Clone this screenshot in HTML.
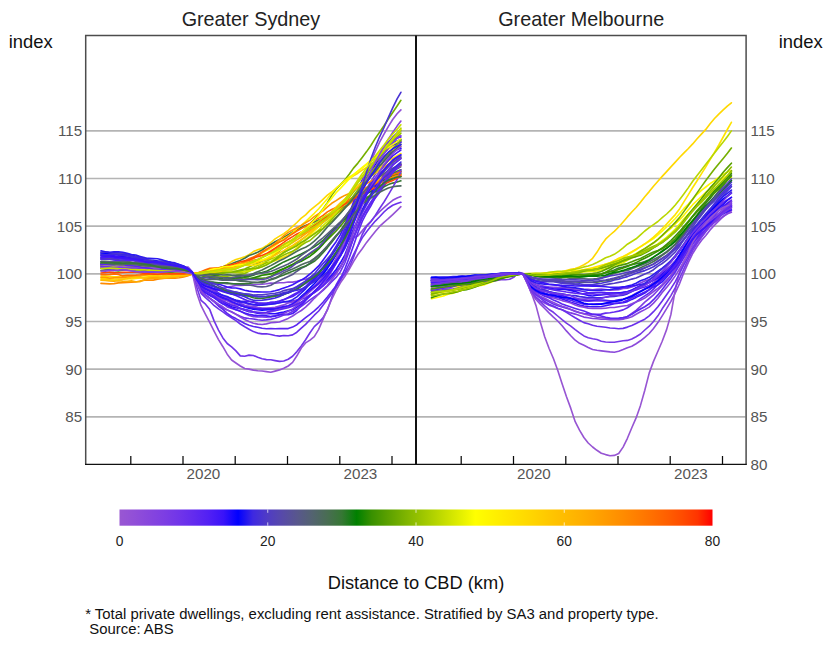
<!DOCTYPE html>
<html><head><meta charset="utf-8"><title>Rents by distance to CBD</title>
<style>
html,body{margin:0;padding:0;background:#fff;}
body{width:832px;height:645px;overflow:hidden;position:relative;font-family:"Liberation Sans",sans-serif;}
svg{position:absolute;left:0;top:0;}
text{font-family:"Liberation Sans",sans-serif;}
.t{font-size:19.8px;fill:#222;}
.u{font-size:18.4px;fill:#111;}
.k{font-size:15.2px;fill:#555;}
.c{font-size:13.8px;fill:#222;}
.f{font-size:14.89px;fill:#111;}
.lines path{fill:none;stroke-width:1.62;stroke-linejoin:round;stroke-linecap:round;}
</style></head><body>
<svg width="832" height="645" viewBox="0 0 832 645">
<defs>
<linearGradient id="cb" x1="0" y1="0" x2="1" y2="0">
<stop offset="0.0000" stop-color="#9957d2"/><stop offset="0.0250" stop-color="#914fd8"/><stop offset="0.0500" stop-color="#8746dd"/><stop offset="0.0750" stop-color="#7d3ee3"/><stop offset="0.1000" stop-color="#7135e9"/><stop offset="0.1250" stop-color="#632bee"/><stop offset="0.1500" stop-color="#5220f4"/><stop offset="0.1750" stop-color="#3a13f9"/><stop offset="0.2000" stop-color="#0000ff"/><stop offset="0.2250" stop-color="#3e28e1"/><stop offset="0.2500" stop-color="#503cc4"/><stop offset="0.2750" stop-color="#574aa8"/><stop offset="0.3000" stop-color="#58578c"/><stop offset="0.3250" stop-color="#536370"/><stop offset="0.3500" stop-color="#496d53"/><stop offset="0.3750" stop-color="#367734"/><stop offset="0.4000" stop-color="#008000"/><stop offset="0.4250" stop-color="#389000"/><stop offset="0.4500" stop-color="#589f00"/><stop offset="0.4750" stop-color="#75af00"/><stop offset="0.5000" stop-color="#91bf00"/><stop offset="0.5250" stop-color="#accf00"/><stop offset="0.5500" stop-color="#c8df00"/><stop offset="0.5750" stop-color="#e3ef00"/><stop offset="0.6000" stop-color="#ffff00"/><stop offset="0.6250" stop-color="#fff400"/><stop offset="0.6500" stop-color="#ffe900"/><stop offset="0.6750" stop-color="#ffde00"/><stop offset="0.7000" stop-color="#ffd300"/><stop offset="0.7250" stop-color="#ffc700"/><stop offset="0.7500" stop-color="#ffbc00"/><stop offset="0.7750" stop-color="#ffb100"/><stop offset="0.8000" stop-color="#ffa500"/><stop offset="0.8250" stop-color="#ff9800"/><stop offset="0.8500" stop-color="#ff8b00"/><stop offset="0.8750" stop-color="#ff7d00"/><stop offset="0.9000" stop-color="#ff6e00"/><stop offset="0.9250" stop-color="#ff5e00"/><stop offset="0.9500" stop-color="#ff4b00"/><stop offset="0.9750" stop-color="#ff3400"/><stop offset="1.0000" stop-color="#ff0000"/>
</linearGradient>
<clipPath id="cs"><rect x="86" y="36" width="329" height="428"/></clipPath>
<clipPath id="cm"><rect x="417" y="36" width="329" height="428"/></clipPath>
</defs>
<rect width="832" height="645" fill="#fff"/>
<g stroke="#b4b4b4" stroke-width="1.6"><line x1="86" x2="745.5" y1="416.83" y2="416.83"/><line x1="86" x2="745.5" y1="369.17" y2="369.17"/><line x1="86" x2="745.5" y1="321.50" y2="321.50"/><line x1="86" x2="745.5" y1="273.83" y2="273.83"/><line x1="86" x2="745.5" y1="226.17" y2="226.17"/><line x1="86" x2="745.5" y1="178.50" y2="178.50"/><line x1="86" x2="745.5" y1="130.83" y2="130.83"/></g>
<g class="lines" clip-path="url(#cs)">
<path d="M101.0,276.3 L105.3,276.0 L109.7,276.3 L114.0,276.7 L118.4,276.7 L122.7,277.0 L127.1,277.0 L131.4,276.7 L135.8,276.7 L140.2,276.1 L144.5,275.8 L148.9,275.9 L153.2,275.8 L157.6,276.2 L161.9,276.1 L166.3,275.2 L170.6,275.0 L175.0,274.9 L179.3,274.9 L183.7,275.0 L188.1,274.7 L192.4,274.0 L196.8,273.4 L201.1,272.9 L205.5,272.9 L209.8,272.3 L214.2,270.6 L218.5,268.8 L222.9,266.9 L227.2,264.4 L231.6,261.6 L235.9,259.6 L240.3,258.2 L244.7,256.9 L249.0,254.6 L253.4,251.6 L257.7,249.7 L262.1,248.4 L266.4,245.8 L270.8,242.5 L275.1,238.9 L279.5,236.1 L283.8,233.6 L288.2,230.3 L292.6,226.4 L296.9,222.5 L301.3,218.2 L305.6,214.9 L310.0,210.4 L314.3,206.8 L318.7,203.4 L323.0,199.4 L327.4,195.2 L331.7,192.0 L336.1,188.3 L340.4,184.5 L344.8,181.1 L349.2,178.7 L353.5,175.8 L357.9,173.2 L362.2,170.1 L366.6,167.5 L370.9,165.2 L375.3,162.6 L379.6,159.6 L384.0,156.4 L388.3,153.2 L392.7,150.9 L397.1,148.6 L400.9,146.1" stroke="#ffd800"/>
<path d="M101.0,265.6 L105.3,265.0 L109.7,264.8 L114.0,265.4 L118.4,266.1 L122.7,265.6 L127.1,265.7 L131.4,265.8 L135.8,266.2 L140.2,266.5 L144.5,266.8 L148.9,267.0 L153.2,268.1 L157.6,268.6 L161.9,268.2 L166.3,268.4 L170.6,268.5 L175.0,269.0 L179.3,269.5 L183.7,270.1 L188.1,271.9 L192.4,273.7 L196.8,273.5 L201.1,272.4 L205.5,270.8 L209.8,269.5 L214.2,269.0 L218.5,268.3 L222.9,266.8 L227.2,265.4 L231.6,263.8 L235.9,262.0 L240.3,260.4 L244.7,258.2 L249.0,255.5 L253.4,254.0 L257.7,252.2 L262.1,250.0 L266.4,246.9 L270.8,244.5 L275.1,241.7 L279.5,239.6 L283.8,237.2 L288.2,234.6 L292.6,232.0 L296.9,230.0 L301.3,227.4 L305.6,225.4 L310.0,223.7 L314.3,222.0 L318.7,219.9 L323.0,218.2 L327.4,216.6 L331.7,214.1 L336.1,211.6 L340.4,209.0 L344.8,206.7 L349.2,203.8 L353.5,199.6 L357.9,195.8 L362.2,192.1 L366.6,188.8 L370.9,186.1 L375.3,183.9 L379.6,181.7 L384.0,179.6 L388.3,177.4 L392.7,175.5 L397.1,173.2 L400.9,171.4" stroke="#417244"/>
<path d="M101.0,265.4 L105.3,265.6 L109.7,265.5 L114.0,265.7 L118.4,266.2 L122.7,266.7 L127.1,266.8 L131.4,266.4 L135.8,265.5 L140.2,265.9 L144.5,266.4 L148.9,266.4 L153.2,266.2 L157.6,266.9 L161.9,266.8 L166.3,266.3 L170.6,266.0 L175.0,266.3 L179.3,266.8 L183.7,267.1 L188.1,267.1 L192.4,271.8 L196.8,281.1 L201.1,286.0 L205.5,288.6 L209.8,289.9 L214.2,289.8 L218.5,289.6 L222.9,288.3 L227.2,287.2 L231.6,286.4 L235.9,285.5 L240.3,285.5 L244.7,285.2 L249.0,285.3 L253.4,284.5 L257.7,284.5 L262.1,284.3 L266.4,283.8 L270.8,283.1 L275.1,283.2 L279.5,282.7 L283.8,282.7 L288.2,282.0 L292.6,282.1 L296.9,281.3 L301.3,279.9 L305.6,279.2 L310.0,277.8 L314.3,275.0 L318.7,272.4 L323.0,268.1 L327.4,263.9 L331.7,259.9 L336.1,255.0 L340.4,249.8 L344.8,244.2 L349.2,239.2 L353.5,237.8 L357.9,235.9 L362.2,230.9 L366.6,225.6 L370.9,221.3 L375.3,216.1 L379.6,211.6 L384.0,207.6 L388.3,203.8 L392.7,200.3 L397.1,198.0 L400.9,196.5" stroke="#8c4bdb"/>
<path d="M101.0,267.2 L105.3,267.5 L109.7,267.8 L114.0,268.3 L118.4,268.3 L122.7,268.2 L127.1,268.1 L131.4,268.7 L135.8,268.7 L140.2,268.7 L144.5,268.9 L148.9,269.5 L153.2,269.8 L157.6,270.8 L161.9,271.2 L166.3,271.9 L170.6,271.5 L175.0,271.2 L179.3,271.1 L183.7,271.4 L188.1,272.4 L192.4,273.7 L196.8,274.2 L201.1,274.8 L205.5,275.2 L209.8,275.3 L214.2,275.4 L218.5,275.1 L222.9,273.5 L227.2,272.1 L231.6,272.1 L235.9,271.4 L240.3,270.1 L244.7,269.0 L249.0,267.1 L253.4,265.0 L257.7,263.4 L262.1,261.1 L266.4,259.5 L270.8,257.7 L275.1,254.5 L279.5,250.8 L283.8,247.0 L288.2,243.1 L292.6,239.5 L296.9,235.8 L301.3,232.5 L305.6,228.5 L310.0,223.9 L314.3,219.3 L318.7,214.3 L323.0,209.0 L327.4,202.6 L331.7,195.4 L336.1,189.3 L340.4,184.6 L344.8,180.1 L349.2,174.3 L353.5,168.1 L357.9,163.1 L362.2,157.5 L366.6,151.6 L370.9,145.5 L375.3,138.4 L379.6,132.2 L384.0,125.7 L388.3,119.0 L392.7,112.5 L397.1,106.0 L400.9,100.3" stroke="#75af00"/>
<path d="M101.0,267.9 L105.3,268.3 L109.7,268.7 L114.0,269.2 L118.4,268.7 L122.7,268.0 L127.1,268.1 L131.4,268.7 L135.8,268.8 L140.2,268.8 L144.5,269.1 L148.9,270.3 L153.2,271.3 L157.6,271.6 L161.9,271.9 L166.3,272.2 L170.6,272.2 L175.0,271.9 L179.3,271.9 L183.7,272.2 L188.1,272.9 L192.4,273.8 L196.8,273.7 L201.1,273.0 L205.5,271.9 L209.8,270.9 L214.2,270.0 L218.5,269.3 L222.9,269.0 L227.2,268.8 L231.6,267.4 L235.9,265.8 L240.3,264.4 L244.7,262.6 L249.0,260.2 L253.4,257.5 L257.7,254.8 L262.1,252.8 L266.4,250.5 L270.8,248.4 L275.1,245.6 L279.5,242.0 L283.8,238.8 L288.2,236.3 L292.6,232.6 L296.9,228.7 L301.3,225.1 L305.6,221.7 L310.0,217.4 L314.3,213.3 L318.7,208.8 L323.0,203.8 L327.4,198.8 L331.7,193.1 L336.1,188.2 L340.4,184.5 L344.8,180.6 L349.2,177.1 L353.5,174.4 L357.9,171.2 L362.2,168.1 L366.6,164.6 L370.9,161.0 L375.3,157.7 L379.6,154.9 L384.0,152.0 L388.3,149.3 L392.7,146.5 L397.1,143.7 L400.9,141.4" stroke="#fff400"/>
<path d="M101.0,267.8 L105.3,267.9 L109.7,267.7 L114.0,268.4 L118.4,267.8 L122.7,266.9 L127.1,267.8 L131.4,268.5 L135.8,268.7 L140.2,268.9 L144.5,269.0 L148.9,269.6 L153.2,270.3 L157.6,270.1 L161.9,270.4 L166.3,270.7 L170.6,271.0 L175.0,270.9 L179.3,271.5 L183.7,271.8 L188.1,272.3 L192.4,273.4 L196.8,278.6 L201.1,283.9 L205.5,286.2 L209.8,287.3 L214.2,289.4 L218.5,293.0 L222.9,295.8 L227.2,297.9 L231.6,299.0 L235.9,300.1 L240.3,301.0 L244.7,301.2 L249.0,301.4 L253.4,301.7 L257.7,302.7 L262.1,303.0 L266.4,303.3 L270.8,302.6 L275.1,302.0 L279.5,301.1 L283.8,299.6 L288.2,297.4 L292.6,295.0 L296.9,292.7 L301.3,290.1 L305.6,287.4 L310.0,284.1 L314.3,280.8 L318.7,277.0 L323.0,272.2 L327.4,266.5 L331.7,260.7 L336.1,254.3 L340.4,246.4 L344.8,235.6 L349.2,223.2 L353.5,209.6 L357.9,195.5 L362.2,183.5 L366.6,174.3 L370.9,166.5 L375.3,160.0 L379.6,153.3 L384.0,147.2 L388.3,142.2 L392.7,137.2 L397.1,133.0 L400.9,130.8" stroke="#5220f4"/>
<path d="M101.0,268.2 L105.3,268.0 L109.7,267.1 L114.0,267.2 L118.4,267.5 L122.7,267.5 L127.1,268.1 L131.4,268.2 L135.8,268.0 L140.2,267.9 L144.5,268.8 L148.9,269.7 L153.2,270.1 L157.6,270.7 L161.9,270.6 L166.3,270.8 L170.6,271.1 L175.0,271.0 L179.3,271.2 L183.7,271.4 L188.1,272.6 L192.4,273.8 L196.8,273.6 L201.1,273.0 L205.5,272.4 L209.8,272.0 L214.2,272.0 L218.5,272.2 L222.9,271.8 L227.2,271.9 L231.6,272.5 L235.9,272.6 L240.3,272.8 L244.7,271.8 L249.0,269.8 L253.4,267.5 L257.7,265.4 L262.1,263.3 L266.4,261.3 L270.8,259.1 L275.1,257.4 L279.5,255.3 L283.8,252.7 L288.2,249.9 L292.6,246.7 L296.9,243.5 L301.3,240.0 L305.6,236.6 L310.0,233.1 L314.3,230.0 L318.7,226.4 L323.0,222.7 L327.4,219.2 L331.7,215.1 L336.1,210.9 L340.4,206.2 L344.8,200.6 L349.2,195.4 L353.5,189.0 L357.9,182.5 L362.2,177.0 L366.6,171.1 L370.9,165.1 L375.3,159.5 L379.6,153.8 L384.0,148.3 L388.3,143.5 L392.7,138.3 L397.1,133.0 L400.9,128.2" stroke="#accf00"/>
<path d="M101.0,270.7 L105.3,269.8 L109.7,270.1 L114.0,270.5 L118.4,270.9 L122.7,270.2 L127.1,269.4 L131.4,269.3 L135.8,270.8 L140.2,271.9 L144.5,272.5 L148.9,271.7 L153.2,271.9 L157.6,271.9 L161.9,271.7 L166.3,272.0 L170.6,272.3 L175.0,272.5 L179.3,272.5 L183.7,272.7 L188.1,273.1 L192.4,273.7 L196.8,274.2 L201.1,274.5 L205.5,274.8 L209.8,275.0 L214.2,275.4 L218.5,276.1 L222.9,277.1 L227.2,278.2 L231.6,279.0 L235.9,278.9 L240.3,278.5 L244.7,277.8 L249.0,278.3 L253.4,278.6 L257.7,278.4 L262.1,278.2 L266.4,277.7 L270.8,276.2 L275.1,274.0 L279.5,271.1 L283.8,269.1 L288.2,266.8 L292.6,264.5 L296.9,261.7 L301.3,259.3 L305.6,256.5 L310.0,253.9 L314.3,251.4 L318.7,248.1 L323.0,243.6 L327.4,239.7 L331.7,235.4 L336.1,231.0 L340.4,226.1 L344.8,220.8 L349.2,214.9 L353.5,208.4 L357.9,201.8 L362.2,196.6 L366.6,192.2 L370.9,187.8 L375.3,184.3 L379.6,181.3 L384.0,178.1 L388.3,175.7 L392.7,173.5 L397.1,171.2 L400.9,169.8" stroke="#499700"/>
<path d="M101.0,263.4 L105.3,263.2 L109.7,263.4 L114.0,263.7 L118.4,263.8 L122.7,263.8 L127.1,263.9 L131.4,264.3 L135.8,264.7 L140.2,265.3 L144.5,266.0 L148.9,266.3 L153.2,266.7 L157.6,267.4 L161.9,267.8 L166.3,267.4 L170.6,267.8 L175.0,268.8 L179.3,269.7 L183.7,270.4 L188.1,271.9 L192.4,273.6 L196.8,274.3 L201.1,274.7 L205.5,275.1 L209.8,275.2 L214.2,276.0 L218.5,277.1 L222.9,277.2 L227.2,277.5 L231.6,278.4 L235.9,277.9 L240.3,277.3 L244.7,276.9 L249.0,276.5 L253.4,275.2 L257.7,273.4 L262.1,272.5 L266.4,271.4 L270.8,269.0 L275.1,266.7 L279.5,264.3 L283.8,261.9 L288.2,260.0 L292.6,257.9 L296.9,256.0 L301.3,253.9 L305.6,251.7 L310.0,249.4 L314.3,246.8 L318.7,243.9 L323.0,240.5 L327.4,236.0 L331.7,231.3 L336.1,226.5 L340.4,222.3 L344.8,218.8 L349.2,213.8 L353.5,207.8 L357.9,202.1 L362.2,197.2 L366.6,193.8 L370.9,191.5 L375.3,188.5 L379.6,185.8 L384.0,183.8 L388.3,181.2 L392.7,178.7 L397.1,177.4 L400.9,176.5" stroke="#267b21"/>
<path d="M101.0,266.3 L105.3,266.0 L109.7,266.0 L114.0,267.0 L118.4,266.9 L122.7,266.7 L127.1,266.9 L131.4,266.6 L135.8,267.2 L140.2,267.9 L144.5,267.9 L148.9,267.3 L153.2,267.4 L157.6,267.7 L161.9,268.7 L166.3,269.2 L170.6,269.6 L175.0,269.7 L179.3,270.2 L183.7,270.7 L188.1,271.8 L192.4,273.3 L196.8,278.7 L201.1,283.4 L205.5,285.3 L209.8,287.5 L214.2,290.9 L218.5,293.5 L222.9,295.9 L227.2,297.4 L231.6,298.6 L235.9,300.7 L240.3,302.4 L244.7,303.0 L249.0,304.5 L253.4,304.7 L257.7,304.5 L262.1,304.8 L266.4,304.4 L270.8,303.9 L275.1,303.5 L279.5,302.8 L283.8,302.0 L288.2,301.6 L292.6,301.1 L296.9,300.0 L301.3,299.2 L305.6,297.7 L310.0,294.8 L314.3,292.5 L318.7,289.2 L323.0,285.2 L327.4,281.2 L331.7,277.1 L336.1,272.3 L340.4,266.8 L344.8,259.3 L349.2,249.5 L353.5,238.6 L357.9,228.0 L362.2,218.2 L366.6,210.2 L370.9,203.9 L375.3,198.1 L379.6,192.4 L384.0,186.2 L388.3,180.8 L392.7,176.4 L397.1,172.6 L400.9,170.0" stroke="#632bee"/>
<path d="M101.0,265.2 L105.3,265.3 L109.7,265.3 L114.0,265.5 L118.4,265.6 L122.7,265.4 L127.1,265.7 L131.4,266.0 L135.8,266.3 L140.2,266.4 L144.5,266.3 L148.9,266.8 L153.2,267.8 L157.6,268.4 L161.9,269.1 L166.3,269.7 L170.6,269.7 L175.0,270.0 L179.3,270.5 L183.7,271.1 L188.1,272.2 L192.4,273.5 L196.8,274.6 L201.1,275.7 L205.5,276.7 L209.8,277.1 L214.2,277.5 L218.5,278.0 L222.9,278.9 L227.2,279.5 L231.6,280.2 L235.9,280.3 L240.3,280.5 L244.7,279.6 L249.0,279.0 L253.4,277.8 L257.7,276.6 L262.1,275.3 L266.4,274.6 L270.8,273.9 L275.1,272.2 L279.5,270.2 L283.8,268.5 L288.2,266.5 L292.6,264.6 L296.9,263.1 L301.3,261.3 L305.6,258.8 L310.0,256.2 L314.3,252.8 L318.7,249.0 L323.0,244.2 L327.4,238.6 L331.7,233.3 L336.1,228.2 L340.4,222.8 L344.8,217.3 L349.2,211.7 L353.5,206.8 L357.9,201.4 L362.2,196.0 L366.6,192.2 L370.9,188.7 L375.3,185.2 L379.6,182.6 L384.0,179.8 L388.3,177.4 L392.7,175.7 L397.1,174.8 L400.9,173.8" stroke="#248800"/>
<path d="M101.0,265.8 L105.3,265.6 L109.7,265.4 L114.0,265.8 L118.4,266.2 L122.7,266.5 L127.1,266.7 L131.4,267.5 L135.8,268.0 L140.2,268.8 L144.5,269.6 L148.9,270.7 L153.2,270.4 L157.6,270.2 L161.9,269.8 L166.3,269.9 L170.6,270.0 L175.0,270.2 L179.3,270.2 L183.7,270.8 L188.1,271.6 L192.4,273.3 L196.8,279.0 L201.1,284.2 L205.5,286.4 L209.8,288.7 L214.2,291.3 L218.5,294.0 L222.9,296.9 L227.2,298.7 L231.6,300.3 L235.9,301.6 L240.3,303.6 L244.7,305.3 L249.0,306.5 L253.4,307.4 L257.7,308.4 L262.1,309.3 L266.4,309.6 L270.8,309.8 L275.1,309.0 L279.5,308.0 L283.8,307.4 L288.2,306.8 L292.6,305.4 L296.9,302.8 L301.3,298.8 L305.6,295.2 L310.0,291.2 L314.3,287.2 L318.7,283.8 L323.0,280.4 L327.4,275.9 L331.7,269.8 L336.1,262.2 L340.4,254.4 L344.8,245.5 L349.2,233.8 L353.5,220.3 L357.9,207.7 L362.2,197.0 L366.6,188.7 L370.9,181.6 L375.3,174.3 L379.6,167.8 L384.0,161.0 L388.3,154.4 L392.7,149.0 L397.1,144.8 L400.9,142.4" stroke="#7135e9"/>
<path d="M101.0,283.4 L105.3,283.6 L109.7,283.9 L114.0,283.6 L118.4,282.9 L122.7,282.8 L127.1,282.4 L131.4,282.3 L135.8,282.0 L140.2,281.0 L144.5,280.1 L148.9,280.0 L153.2,280.1 L157.6,279.3 L161.9,278.4 L166.3,278.2 L170.6,277.9 L175.0,278.2 L179.3,277.8 L183.7,276.9 L188.1,275.7 L192.4,274.1 L196.8,273.1 L201.1,272.3 L205.5,271.8 L209.8,270.8 L214.2,270.5 L218.5,269.7 L222.9,268.9 L227.2,267.7 L231.6,267.2 L235.9,265.9 L240.3,265.4 L244.7,263.9 L249.0,261.9 L253.4,260.2 L257.7,259.6 L262.1,257.4 L266.4,254.7 L270.8,251.9 L275.1,249.1 L279.5,246.9 L283.8,244.8 L288.2,242.0 L292.6,239.4 L296.9,237.2 L301.3,235.0 L305.6,232.7 L310.0,229.5 L314.3,226.6 L318.7,224.4 L323.0,221.7 L327.4,218.4 L331.7,216.2 L336.1,214.0 L340.4,211.0 L344.8,207.6 L349.2,204.4 L353.5,200.5 L357.9,196.8 L362.2,193.7 L366.6,190.4 L370.9,187.5 L375.3,185.3 L379.6,183.4 L384.0,181.5 L388.3,179.0 L392.7,176.9 L397.1,175.6 L400.9,174.3" stroke="#ff8b00"/>
<path d="M101.0,278.2 L105.3,278.4 L109.7,278.6 L114.0,278.9 L118.4,279.0 L122.7,279.2 L127.1,278.5 L131.4,279.0 L135.8,278.5 L140.2,277.9 L144.5,277.8 L148.9,277.8 L153.2,277.2 L157.6,277.3 L161.9,277.5 L166.3,277.1 L170.6,276.5 L175.0,276.5 L179.3,275.8 L183.7,275.3 L188.1,274.8 L192.4,274.0 L196.8,273.5 L201.1,273.5 L205.5,273.1 L209.8,272.9 L214.2,272.0 L218.5,270.8 L222.9,270.0 L227.2,268.6 L231.6,266.9 L235.9,265.4 L240.3,265.3 L244.7,265.3 L249.0,265.4 L253.4,265.2 L257.7,264.2 L262.1,263.3 L266.4,262.9 L270.8,261.9 L275.1,260.6 L279.5,258.9 L283.8,257.1 L288.2,255.2 L292.6,251.7 L296.9,247.9 L301.3,244.2 L305.6,239.9 L310.0,235.1 L314.3,230.8 L318.7,226.1 L323.0,221.8 L327.4,218.4 L331.7,214.2 L336.1,209.4 L340.4,204.5 L344.8,199.3 L349.2,194.6 L353.5,190.4 L357.9,186.6 L362.2,182.7 L366.6,178.6 L370.9,174.7 L375.3,171.3 L379.6,168.0 L384.0,164.5 L388.3,161.2 L392.7,158.2 L397.1,155.8 L400.9,153.5" stroke="#ffe300"/>
<path d="M101.0,257.1 L105.3,256.8 L109.7,257.1 L114.0,256.9 L118.4,257.1 L122.7,257.5 L127.1,257.5 L131.4,257.9 L135.8,258.8 L140.2,259.5 L144.5,261.0 L148.9,262.0 L153.2,262.5 L157.6,262.3 L161.9,263.3 L166.3,264.7 L170.6,265.2 L175.0,265.8 L179.3,267.3 L183.7,268.5 L188.1,270.2 L192.4,273.0 L196.8,277.6 L201.1,281.1 L205.5,282.6 L209.8,283.3 L214.2,284.0 L218.5,284.1 L222.9,285.5 L227.2,287.1 L231.6,287.9 L235.9,288.0 L240.3,288.9 L244.7,290.2 L249.0,291.1 L253.4,291.8 L257.7,291.9 L262.1,292.0 L266.4,292.0 L270.8,291.8 L275.1,290.8 L279.5,289.6 L283.8,287.9 L288.2,286.5 L292.6,284.8 L296.9,282.2 L301.3,280.1 L305.6,277.5 L310.0,274.0 L314.3,270.2 L318.7,265.9 L323.0,260.2 L327.4,254.1 L331.7,247.7 L336.1,241.7 L340.4,234.7 L344.8,225.2 L349.2,213.8 L353.5,202.3 L357.9,191.5 L362.2,180.9 L366.6,172.5 L370.9,167.0 L375.3,161.8 L379.6,156.8 L384.0,151.5 L388.3,147.2 L392.7,145.0 L397.1,143.4 L400.9,141.8" stroke="#3a13f9"/>
<path d="M101.0,253.0 L105.3,253.0 L109.7,252.8 L114.0,252.7 L118.4,253.1 L122.7,253.9 L127.1,254.3 L131.4,255.1 L135.8,257.0 L140.2,258.8 L144.5,259.9 L148.9,260.6 L153.2,261.1 L157.6,261.5 L161.9,262.5 L166.3,262.8 L170.6,263.3 L175.0,264.5 L179.3,265.4 L183.7,266.9 L188.1,268.9 L192.4,272.7 L196.8,281.5 L201.1,289.0 L205.5,292.5 L209.8,295.1 L214.2,297.5 L218.5,300.1 L222.9,302.4 L227.2,304.6 L231.6,306.7 L235.9,307.6 L240.3,308.7 L244.7,310.2 L249.0,311.8 L253.4,312.3 L257.7,313.2 L262.1,313.8 L266.4,313.7 L270.8,313.5 L275.1,313.7 L279.5,312.9 L283.8,312.1 L288.2,310.9 L292.6,309.7 L296.9,307.1 L301.3,303.5 L305.6,299.3 L310.0,295.6 L314.3,291.4 L318.7,287.1 L323.0,282.5 L327.4,279.3 L331.7,275.1 L336.1,269.5 L340.4,262.8 L344.8,255.1 L349.2,243.9 L353.5,231.7 L357.9,219.9 L362.2,209.8 L366.6,201.1 L370.9,193.8 L375.3,186.3 L379.6,180.4 L384.0,175.4 L388.3,170.1 L392.7,164.9 L397.1,161.5 L400.9,158.4" stroke="#280afc"/>
<path d="M101.0,253.0 L105.3,253.3 L109.7,253.8 L114.0,253.9 L118.4,254.3 L122.7,254.7 L127.1,255.0 L131.4,255.6 L135.8,256.4 L140.2,257.3 L144.5,258.9 L148.9,260.2 L153.2,260.4 L157.6,261.0 L161.9,261.3 L166.3,261.3 L170.6,262.5 L175.0,263.8 L179.3,265.1 L183.7,266.5 L188.1,268.9 L192.4,272.8 L196.8,280.0 L201.1,285.8 L205.5,288.5 L209.8,290.9 L214.2,293.4 L218.5,296.1 L222.9,298.1 L227.2,300.0 L231.6,302.1 L235.9,303.8 L240.3,305.1 L244.7,306.9 L249.0,308.2 L253.4,309.2 L257.7,309.8 L262.1,310.2 L266.4,309.8 L270.8,309.2 L275.1,308.5 L279.5,307.8 L283.8,307.0 L288.2,306.3 L292.6,304.3 L296.9,300.9 L301.3,296.4 L305.6,292.5 L310.0,288.1 L314.3,283.8 L318.7,278.9 L323.0,274.1 L327.4,268.4 L331.7,262.1 L336.1,254.7 L340.4,247.3 L344.8,237.5 L349.2,225.1 L353.5,210.7 L357.9,197.3 L362.2,186.2 L366.6,178.2 L370.9,171.3 L375.3,164.6 L379.6,157.6 L384.0,151.3 L388.3,146.4 L392.7,143.1 L397.1,140.9 L400.9,139.6" stroke="#0000ff"/>
<path d="M101.0,259.0 L105.3,258.8 L109.7,259.2 L114.0,259.7 L118.4,259.8 L122.7,261.1 L127.1,261.5 L131.4,262.0 L135.8,262.7 L140.2,262.4 L144.5,262.2 L148.9,264.0 L153.2,264.8 L157.6,265.4 L161.9,265.8 L166.3,265.6 L170.6,265.8 L175.0,267.0 L179.3,267.9 L183.7,269.0 L188.1,270.7 L192.4,273.2 L196.8,277.0 L201.1,279.7 L205.5,280.9 L209.8,282.0 L214.2,282.6 L218.5,282.8 L222.9,283.1 L227.2,283.7 L231.6,283.6 L235.9,284.1 L240.3,284.6 L244.7,284.9 L249.0,285.0 L253.4,285.7 L257.7,286.8 L262.1,286.9 L266.4,286.5 L270.8,285.2 L275.1,282.8 L279.5,280.4 L283.8,278.6 L288.2,276.6 L292.6,274.5 L296.9,271.2 L301.3,268.3 L305.6,266.3 L310.0,263.1 L314.3,259.2 L318.7,255.5 L323.0,250.9 L327.4,246.0 L331.7,240.7 L336.1,235.6 L340.4,230.7 L344.8,224.0 L349.2,217.6 L353.5,211.2 L357.9,204.2 L362.2,198.1 L366.6,193.0 L370.9,188.4 L375.3,184.1 L379.6,179.8 L384.0,176.7 L388.3,174.2 L392.7,171.4 L397.1,168.9 L400.9,166.8" stroke="#58578c"/>
<path d="M101.0,267.9 L105.3,267.6 L109.7,266.8 L114.0,267.1 L118.4,267.4 L122.7,267.6 L127.1,268.1 L131.4,269.1 L135.8,269.8 L140.2,270.2 L144.5,270.1 L148.9,270.2 L153.2,270.3 L157.6,270.5 L161.9,270.4 L166.3,270.6 L170.6,270.7 L175.0,270.8 L179.3,271.3 L183.7,272.0 L188.1,272.9 L192.4,273.6 L196.8,274.4 L201.1,275.2 L205.5,275.6 L209.8,276.1 L214.2,276.7 L218.5,276.9 L222.9,276.3 L227.2,276.3 L231.6,275.8 L235.9,275.4 L240.3,274.4 L244.7,273.5 L249.0,271.2 L253.4,269.3 L257.7,267.4 L262.1,264.9 L266.4,262.8 L270.8,262.1 L275.1,260.0 L279.5,257.2 L283.8,255.1 L288.2,253.0 L292.6,251.3 L296.9,249.1 L301.3,245.4 L305.6,242.5 L310.0,240.5 L314.3,236.7 L318.7,232.8 L323.0,228.7 L327.4,223.8 L331.7,218.9 L336.1,214.5 L340.4,209.7 L344.8,203.8 L349.2,197.5 L353.5,191.9 L357.9,186.4 L362.2,181.0 L366.6,174.7 L370.9,167.9 L375.3,162.4 L379.6,157.1 L384.0,151.7 L388.3,146.5 L392.7,141.8 L397.1,137.2 L400.9,133.1" stroke="#91bf00"/>
<path d="M101.0,264.4 L105.3,264.5 L109.7,264.7 L114.0,264.7 L118.4,264.8 L122.7,264.7 L127.1,264.8 L131.4,265.4 L135.8,265.9 L140.2,265.7 L144.5,266.1 L148.9,266.6 L153.2,267.7 L157.6,268.4 L161.9,269.0 L166.3,269.1 L170.6,268.9 L175.0,268.9 L179.3,270.0 L183.7,270.8 L188.1,271.7 L192.4,273.3 L196.8,276.5 L201.1,279.3 L205.5,281.0 L209.8,281.7 L214.2,282.2 L218.5,282.9 L222.9,282.8 L227.2,282.8 L231.6,283.8 L235.9,283.7 L240.3,283.7 L244.7,283.8 L249.0,283.4 L253.4,282.6 L257.7,282.5 L262.1,281.6 L266.4,281.0 L270.8,279.8 L275.1,278.5 L279.5,276.6 L283.8,275.0 L288.2,273.1 L292.6,271.3 L296.9,269.4 L301.3,267.5 L305.6,266.0 L310.0,263.8 L314.3,261.3 L318.7,257.4 L323.0,252.6 L327.4,247.6 L331.7,242.2 L336.1,236.5 L340.4,231.0 L344.8,225.1 L349.2,219.4 L353.5,214.1 L357.9,207.7 L362.2,201.8 L366.6,197.8 L370.9,195.1 L375.3,191.8 L379.6,189.3 L384.0,186.9 L388.3,184.6 L392.7,183.1 L397.1,182.0 L400.9,180.8" stroke="#367734"/>
<path d="M101.0,259.5 L105.3,259.3 L109.7,259.1 L114.0,259.9 L118.4,260.8 L122.7,260.4 L127.1,260.2 L131.4,260.2 L135.8,261.2 L140.2,262.0 L144.5,263.1 L148.9,263.5 L153.2,264.2 L157.6,265.6 L161.9,266.1 L166.3,266.3 L170.6,267.1 L175.0,267.6 L179.3,268.2 L183.7,268.8 L188.1,270.3 L192.4,273.0 L196.8,278.9 L201.1,283.7 L205.5,285.7 L209.8,287.3 L214.2,289.0 L218.5,290.3 L222.9,291.7 L227.2,292.9 L231.6,294.1 L235.9,295.6 L240.3,297.5 L244.7,299.6 L249.0,301.2 L253.4,302.5 L257.7,303.4 L262.1,303.9 L266.4,303.2 L270.8,302.4 L275.1,302.0 L279.5,301.2 L283.8,299.7 L288.2,298.1 L292.6,296.5 L296.9,293.8 L301.3,290.8 L305.6,286.7 L310.0,281.8 L314.3,278.0 L318.7,273.6 L323.0,267.6 L327.4,260.9 L331.7,253.6 L336.1,246.3 L340.4,239.0 L344.8,228.4 L349.2,216.6 L353.5,204.5 L357.9,191.8 L362.2,180.1 L366.6,172.3 L370.9,165.8 L375.3,160.3 L379.6,154.8 L384.0,149.1 L388.3,143.6 L392.7,139.9 L397.1,137.9 L400.9,137.0" stroke="#5220f4"/>
<path d="M101.0,277.5 L105.3,277.5 L109.7,278.1 L114.0,277.7 L118.4,277.6 L122.7,277.6 L127.1,277.0 L131.4,276.9 L135.8,277.1 L140.2,277.3 L144.5,278.0 L148.9,277.7 L153.2,277.2 L157.6,276.9 L161.9,276.5 L166.3,276.5 L170.6,276.2 L175.0,275.5 L179.3,275.5 L183.7,275.3 L188.1,274.5 L192.4,273.9 L196.8,273.3 L201.1,272.7 L205.5,271.6 L209.8,271.0 L214.2,270.7 L218.5,269.9 L222.9,269.0 L227.2,267.5 L231.6,266.4 L235.9,265.6 L240.3,264.5 L244.7,262.1 L249.0,260.4 L253.4,258.5 L257.7,255.7 L262.1,252.5 L266.4,249.8 L270.8,246.7 L275.1,243.6 L279.5,239.6 L283.8,235.7 L288.2,232.4 L292.6,230.0 L296.9,227.8 L301.3,225.5 L305.6,222.8 L310.0,220.1 L314.3,216.6 L318.7,213.8 L323.0,210.8 L327.4,206.9 L331.7,203.3 L336.1,200.6 L340.4,197.8 L344.8,195.4 L349.2,193.6 L353.5,190.7 L357.9,187.4 L362.2,185.4 L366.6,183.6 L370.9,181.1 L375.3,178.7 L379.6,176.5 L384.0,174.3 L388.3,172.1 L392.7,169.7 L397.1,167.0 L400.9,164.6" stroke="#ff9800"/>
<path d="M101.0,274.8 L105.3,274.7 L109.7,274.5 L114.0,273.9 L118.4,274.5 L122.7,275.9 L127.1,275.4 L131.4,275.2 L135.8,275.1 L140.2,274.9 L144.5,274.6 L148.9,274.2 L153.2,273.8 L157.6,274.4 L161.9,274.2 L166.3,273.9 L170.6,273.8 L175.0,273.9 L179.3,274.2 L183.7,274.3 L188.1,274.1 L192.4,273.9 L196.8,273.3 L201.1,271.7 L205.5,269.7 L209.8,268.4 L214.2,268.1 L218.5,267.8 L222.9,266.9 L227.2,266.4 L231.6,266.6 L235.9,265.4 L240.3,263.7 L244.7,261.2 L249.0,258.7 L253.4,257.0 L257.7,255.0 L262.1,251.9 L266.4,249.3 L270.8,246.9 L275.1,244.2 L279.5,242.1 L283.8,240.0 L288.2,236.6 L292.6,233.7 L296.9,231.0 L301.3,228.6 L305.6,226.3 L310.0,223.5 L314.3,220.4 L318.7,218.1 L323.0,215.5 L327.4,211.9 L331.7,209.5 L336.1,207.5 L340.4,205.3 L344.8,202.2 L349.2,199.6 L353.5,196.8 L357.9,193.6 L362.2,190.3 L366.6,187.5 L370.9,185.6 L375.3,183.8 L379.6,181.4 L384.0,178.5 L388.3,176.3 L392.7,174.7 L397.1,173.3 L400.9,171.8" stroke="#ff6e00"/>
<path d="M101.0,264.5 L105.3,264.8 L109.7,264.9 L114.0,264.7 L118.4,265.3 L122.7,265.7 L127.1,266.1 L131.4,266.0 L135.8,266.0 L140.2,266.7 L144.5,267.1 L148.9,267.3 L153.2,267.4 L157.6,268.0 L161.9,268.4 L166.3,268.5 L170.6,268.8 L175.0,269.4 L179.3,269.7 L183.7,270.3 L188.1,271.4 L192.4,273.2 L196.8,280.5 L201.1,287.6 L205.5,290.4 L209.8,293.5 L214.2,297.0 L218.5,300.0 L222.9,303.4 L227.2,307.0 L231.6,308.5 L235.9,309.6 L240.3,311.1 L244.7,313.6 L249.0,315.5 L253.4,316.6 L257.7,316.9 L262.1,317.0 L266.4,317.3 L270.8,316.8 L275.1,315.5 L279.5,314.6 L283.8,313.2 L288.2,311.3 L292.6,308.9 L296.9,305.7 L301.3,302.8 L305.6,299.6 L310.0,295.8 L314.3,291.6 L318.7,287.5 L323.0,283.2 L327.4,277.9 L331.7,271.0 L336.1,263.4 L340.4,254.8 L344.8,244.2 L349.2,231.9 L353.5,217.6 L357.9,203.5 L362.2,191.5 L366.6,182.1 L370.9,174.6 L375.3,167.3 L379.6,159.8 L384.0,154.1 L388.3,148.6 L392.7,142.7 L397.1,138.3 L400.9,135.8" stroke="#7d3ee3"/>
<path d="M101.0,265.3 L105.3,265.5 L109.7,265.0 L114.0,265.0 L118.4,265.3 L122.7,265.4 L127.1,265.8 L131.4,266.0 L135.8,266.2 L140.2,266.8 L144.5,267.3 L148.9,268.1 L153.2,268.5 L157.6,268.8 L161.9,269.2 L166.3,269.4 L170.6,269.6 L175.0,269.9 L179.3,270.7 L183.7,271.6 L188.1,272.0 L192.4,273.3 L196.8,280.4 L201.1,287.5 L205.5,290.9 L209.8,293.3 L214.2,295.2 L218.5,298.1 L222.9,300.8 L227.2,302.9 L231.6,304.6 L235.9,306.4 L240.3,308.4 L244.7,309.7 L249.0,311.0 L253.4,311.9 L257.7,312.3 L262.1,312.9 L266.4,313.2 L270.8,311.8 L275.1,310.4 L279.5,308.9 L283.8,307.6 L288.2,306.4 L292.6,304.8 L296.9,302.4 L301.3,299.0 L305.6,295.4 L310.0,291.6 L314.3,288.0 L318.7,284.0 L323.0,278.8 L327.4,272.9 L331.7,266.4 L336.1,258.2 L340.4,249.7 L344.8,239.4 L349.2,226.0 L353.5,210.9 L357.9,196.0 L362.2,182.6 L366.6,171.4 L370.9,161.4 L375.3,151.5 L379.6,142.1 L384.0,134.2 L388.3,126.6 L392.7,119.5 L397.1,113.8 L400.9,109.9" stroke="#914fd8"/>
<path d="M101.0,264.8 L105.3,264.8 L109.7,264.7 L114.0,264.7 L118.4,265.2 L122.7,265.5 L127.1,266.2 L131.4,266.1 L135.8,266.2 L140.2,267.1 L144.5,267.9 L148.9,268.4 L153.2,269.3 L157.6,269.7 L161.9,270.1 L166.3,270.2 L170.6,270.1 L175.0,270.3 L179.3,270.3 L183.7,270.6 L188.1,271.7 L192.4,273.3 L196.8,283.1 L201.1,293.3 L205.5,297.6 L209.8,301.3 L214.2,305.7 L218.5,308.9 L222.9,311.9 L227.2,315.0 L231.6,317.8 L235.9,320.7 L240.3,324.0 L244.7,326.8 L249.0,329.2 L253.4,331.6 L257.7,333.1 L262.1,333.9 L266.4,333.7 L270.8,334.5 L275.1,335.5 L279.5,336.1 L283.8,335.5 L288.2,335.7 L292.6,334.9 L296.9,332.2 L301.3,328.2 L305.6,324.4 L310.0,319.7 L314.3,315.2 L318.7,311.0 L323.0,305.2 L327.4,299.4 L331.7,293.8 L336.1,287.2 L340.4,280.6 L344.8,272.9 L349.2,263.5 L353.5,254.7 L357.9,245.9 L362.2,237.9 L366.6,231.7 L370.9,226.3 L375.3,221.1 L379.6,216.8 L384.0,212.0 L388.3,208.2 L392.7,205.3 L397.1,203.5 L400.9,202.3" stroke="#6a30eb"/>
<path d="M101.0,266.4 L105.3,266.3 L109.7,266.4 L114.0,266.8 L118.4,267.0 L122.7,266.9 L127.1,266.9 L131.4,267.4 L135.8,268.1 L140.2,269.1 L144.5,269.2 L148.9,269.3 L153.2,269.0 L157.6,268.8 L161.9,269.4 L166.3,270.1 L170.6,270.0 L175.0,270.8 L179.3,271.0 L183.7,271.2 L188.1,271.9 L192.4,273.3 L196.8,287.3 L201.1,300.4 L205.5,304.2 L209.8,309.6 L214.2,321.1 L218.5,330.1 L222.9,337.9 L227.2,343.5 L231.6,346.9 L235.9,350.9 L240.3,355.9 L244.7,356.3 L249.0,355.1 L253.4,355.5 L257.7,357.2 L262.1,358.7 L266.4,359.6 L270.8,359.8 L275.1,360.6 L279.5,361.4 L283.8,361.0 L288.2,359.2 L292.6,356.3 L296.9,351.6 L301.3,346.0 L305.6,339.8 L310.0,332.7 L314.3,326.6 L318.7,322.6 L323.0,317.9 L327.4,309.9 L331.7,297.7 L336.1,284.9 L340.4,277.4 L344.8,274.5 L349.2,267.8 L353.5,257.4 L357.9,245.7 L362.2,234.5 L366.6,226.4 L370.9,221.7 L375.3,215.4 L379.6,208.5 L384.0,202.0 L388.3,194.9 L392.7,187.3 L397.1,179.5 L400.9,172.0" stroke="#7135e9"/>
<path d="M101.0,280.3 L105.3,280.4 L109.7,280.9 L114.0,281.1 L118.4,280.8 L122.7,281.1 L127.1,281.2 L131.4,280.9 L135.8,281.7 L140.2,281.6 L144.5,279.8 L148.9,278.4 L153.2,278.1 L157.6,278.1 L161.9,278.4 L166.3,278.0 L170.6,277.4 L175.0,277.1 L179.3,276.4 L183.7,276.1 L188.1,275.2 L192.4,274.1 L196.8,273.0 L201.1,272.3 L205.5,271.7 L209.8,271.3 L214.2,270.1 L218.5,269.1 L222.9,268.3 L227.2,267.8 L231.6,266.4 L235.9,264.9 L240.3,263.6 L244.7,263.4 L249.0,263.1 L253.4,262.6 L257.7,261.9 L262.1,260.2 L266.4,259.1 L270.8,257.4 L275.1,254.1 L279.5,250.4 L283.8,247.5 L288.2,245.4 L292.6,242.6 L296.9,239.9 L301.3,237.0 L305.6,233.9 L310.0,231.0 L314.3,227.9 L318.7,224.1 L323.0,221.5 L327.4,218.4 L331.7,214.7 L336.1,211.1 L340.4,207.6 L344.8,204.3 L349.2,200.8 L353.5,197.7 L357.9,194.6 L362.2,191.1 L366.6,187.7 L370.9,185.0 L375.3,182.5 L379.6,179.5 L384.0,176.6 L388.3,173.4 L392.7,170.6 L397.1,167.8 L400.9,165.3" stroke="#ffab00"/>
<path d="M101.0,268.5 L105.3,268.6 L109.7,269.0 L114.0,268.8 L118.4,268.4 L122.7,269.1 L127.1,270.0 L131.4,270.5 L135.8,271.3 L140.2,271.8 L144.5,272.1 L148.9,272.1 L153.2,271.9 L157.6,271.5 L161.9,271.5 L166.3,270.9 L170.6,270.8 L175.0,271.4 L179.3,271.5 L183.7,271.6 L188.1,272.5 L192.4,273.5 L196.8,280.4 L201.1,287.6 L205.5,291.1 L209.8,293.3 L214.2,296.2 L218.5,299.1 L222.9,301.2 L227.2,303.2 L231.6,305.2 L235.9,306.0 L240.3,308.2 L244.7,309.4 L249.0,310.3 L253.4,311.8 L257.7,312.6 L262.1,312.5 L266.4,312.2 L270.8,310.9 L275.1,310.6 L279.5,309.8 L283.8,308.6 L288.2,307.7 L292.6,306.3 L296.9,304.2 L301.3,302.0 L305.6,299.2 L310.0,295.6 L314.3,292.6 L318.7,289.5 L323.0,286.2 L327.4,282.0 L331.7,277.3 L336.1,272.1 L340.4,267.1 L344.8,258.8 L349.2,248.2 L353.5,237.4 L357.9,226.9 L362.2,216.3 L366.6,208.7 L370.9,202.0 L375.3,195.4 L379.6,188.2 L384.0,181.9 L388.3,175.8 L392.7,171.3 L397.1,167.2 L400.9,164.9" stroke="#5b26f1"/>
<path d="M101.0,267.1 L105.3,267.0 L109.7,266.5 L114.0,265.7 L118.4,265.7 L122.7,266.5 L127.1,267.0 L131.4,267.5 L135.8,267.9 L140.2,268.1 L144.5,268.4 L148.9,268.5 L153.2,269.2 L157.6,269.7 L161.9,269.4 L166.3,269.3 L170.6,270.2 L175.0,270.5 L179.3,270.6 L183.7,270.9 L188.1,272.3 L192.4,273.7 L196.8,273.8 L201.1,273.4 L205.5,273.1 L209.8,272.9 L214.2,272.7 L218.5,272.3 L222.9,271.9 L227.2,271.5 L231.6,271.3 L235.9,271.2 L240.3,271.5 L244.7,271.4 L249.0,271.0 L253.4,269.7 L257.7,268.2 L262.1,266.8 L266.4,264.6 L270.8,261.3 L275.1,258.4 L279.5,255.4 L283.8,252.7 L288.2,249.5 L292.6,247.1 L296.9,245.2 L301.3,242.6 L305.6,239.3 L310.0,236.6 L314.3,233.4 L318.7,230.0 L323.0,225.6 L327.4,221.5 L331.7,217.2 L336.1,212.9 L340.4,207.8 L344.8,201.9 L349.2,196.3 L353.5,189.9 L357.9,182.7 L362.2,177.0 L366.6,171.2 L370.9,165.8 L375.3,159.8 L379.6,153.7 L384.0,148.4 L388.3,144.2 L392.7,139.0 L397.1,133.8 L400.9,129.3" stroke="#d5e700"/>
<path d="M101.0,279.8 L105.3,279.8 L109.7,279.9 L114.0,280.2 L118.4,279.9 L122.7,279.3 L127.1,278.7 L131.4,277.9 L135.8,277.3 L140.2,277.7 L144.5,277.7 L148.9,276.7 L153.2,276.0 L157.6,275.9 L161.9,276.4 L166.3,276.9 L170.6,276.4 L175.0,275.9 L179.3,275.6 L183.7,275.5 L188.1,274.6 L192.4,273.9 L196.8,273.5 L201.1,273.2 L205.5,273.2 L209.8,273.3 L214.2,272.5 L218.5,271.4 L222.9,270.7 L227.2,269.6 L231.6,268.8 L235.9,267.2 L240.3,265.8 L244.7,265.2 L249.0,264.3 L253.4,263.0 L257.7,262.3 L262.1,260.7 L266.4,259.3 L270.8,257.5 L275.1,255.2 L279.5,252.9 L283.8,250.6 L288.2,247.8 L292.6,245.5 L296.9,242.4 L301.3,239.7 L305.6,236.8 L310.0,232.8 L314.3,229.0 L318.7,225.1 L323.0,220.5 L327.4,216.2 L331.7,211.6 L336.1,207.0 L340.4,202.8 L344.8,199.0 L349.2,194.8 L353.5,190.0 L357.9,186.0 L362.2,182.6 L366.6,179.0 L370.9,176.3 L375.3,173.4 L379.6,170.1 L384.0,167.0 L388.3,164.2 L392.7,162.1 L397.1,160.3 L400.9,158.0" stroke="#ffc700"/>
<path d="M101.0,273.0 L105.3,272.6 L109.7,272.1 L114.0,272.5 L118.4,272.8 L122.7,272.4 L127.1,272.2 L131.4,272.3 L135.8,272.0 L140.2,272.8 L144.5,273.4 L148.9,273.8 L153.2,274.2 L157.6,274.2 L161.9,273.8 L166.3,273.7 L170.6,273.9 L175.0,273.8 L179.3,273.6 L183.7,273.4 L188.1,273.8 L192.4,273.9 L196.8,273.7 L201.1,272.8 L205.5,271.1 L209.8,269.6 L214.2,268.8 L218.5,268.1 L222.9,267.5 L227.2,265.7 L231.6,264.5 L235.9,263.6 L240.3,261.8 L244.7,260.8 L249.0,260.0 L253.4,258.0 L257.7,256.6 L262.1,255.4 L266.4,253.6 L270.8,251.0 L275.1,248.1 L279.5,245.3 L283.8,242.4 L288.2,239.2 L292.6,236.6 L296.9,233.9 L301.3,232.1 L305.6,230.6 L310.0,228.5 L314.3,225.3 L318.7,222.4 L323.0,219.2 L327.4,216.3 L331.7,213.0 L336.1,209.7 L340.4,207.1 L344.8,204.1 L349.2,201.2 L353.5,199.2 L357.9,196.2 L362.2,193.8 L366.6,191.9 L370.9,189.6 L375.3,187.7 L379.6,186.3 L384.0,184.1 L388.3,182.3 L392.7,180.5 L397.1,178.0 L400.9,175.7" stroke="#ff4b00"/>
<path d="M101.0,266.4 L105.3,265.9 L109.7,266.2 L114.0,267.0 L118.4,267.1 L122.7,266.1 L127.1,266.0 L131.4,267.1 L135.8,266.8 L140.2,266.9 L144.5,267.3 L148.9,267.6 L153.2,268.2 L157.6,269.2 L161.9,269.7 L166.3,270.0 L170.6,271.0 L175.0,271.4 L179.3,271.1 L183.7,271.5 L188.1,272.8 L192.4,273.8 L196.8,273.6 L201.1,272.5 L205.5,271.4 L209.8,269.9 L214.2,268.9 L218.5,268.4 L222.9,267.0 L227.2,266.5 L231.6,266.4 L235.9,265.2 L240.3,264.7 L244.7,264.4 L249.0,263.3 L253.4,262.8 L257.7,260.8 L262.1,259.9 L266.4,258.2 L270.8,255.6 L275.1,252.5 L279.5,250.0 L283.8,246.8 L288.2,243.4 L292.6,239.7 L296.9,236.3 L301.3,232.2 L305.6,228.9 L310.0,224.8 L314.3,220.3 L318.7,215.5 L323.0,209.6 L327.4,203.5 L331.7,198.2 L336.1,192.7 L340.4,188.4 L344.8,183.6 L349.2,178.9 L353.5,175.1 L357.9,171.1 L362.2,167.3 L366.6,163.8 L370.9,160.2 L375.3,156.9 L379.6,153.2 L384.0,149.9 L388.3,147.4 L392.7,144.6 L397.1,141.4 L400.9,138.9" stroke="#ffff00"/>
<path d="M101.0,255.3 L105.3,255.4 L109.7,255.6 L114.0,256.6 L118.4,256.6 L122.7,256.1 L127.1,257.0 L131.4,257.7 L135.8,257.6 L140.2,259.0 L144.5,259.5 L148.9,260.9 L153.2,262.1 L157.6,262.2 L161.9,262.3 L166.3,263.0 L170.6,263.5 L175.0,264.5 L179.3,265.8 L183.7,267.0 L188.1,269.5 L192.4,272.9 L196.8,278.9 L201.1,283.8 L205.5,286.2 L209.8,287.2 L214.2,288.9 L218.5,289.8 L222.9,290.8 L227.2,291.4 L231.6,291.9 L235.9,292.0 L240.3,293.1 L244.7,294.2 L249.0,295.3 L253.4,295.9 L257.7,296.6 L262.1,296.8 L266.4,296.5 L270.8,296.0 L275.1,295.4 L279.5,294.6 L283.8,293.8 L288.2,292.9 L292.6,291.1 L296.9,288.7 L301.3,286.0 L305.6,283.3 L310.0,279.9 L314.3,276.1 L318.7,271.8 L323.0,267.1 L327.4,261.9 L331.7,255.4 L336.1,248.7 L340.4,241.5 L344.8,232.1 L349.2,221.3 L353.5,209.0 L357.9,197.7 L362.2,188.2 L366.6,180.9 L370.9,174.7 L375.3,169.1 L379.6,163.2 L384.0,158.5 L388.3,154.8 L392.7,152.0 L397.1,149.5 L400.9,148.3" stroke="#280afc"/>
<path d="M101.0,267.7 L105.3,267.5 L109.7,267.4 L114.0,268.0 L118.4,268.9 L122.7,268.7 L127.1,268.0 L131.4,267.6 L135.8,267.7 L140.2,267.8 L144.5,268.4 L148.9,269.1 L153.2,269.7 L157.6,269.6 L161.9,269.8 L166.3,270.2 L170.6,271.0 L175.0,270.7 L179.3,271.0 L183.7,271.4 L188.1,272.6 L192.4,273.8 L196.8,273.6 L201.1,272.6 L205.5,271.5 L209.8,271.4 L214.2,271.1 L218.5,270.3 L222.9,269.9 L227.2,269.9 L231.6,269.9 L235.9,268.9 L240.3,266.9 L244.7,265.2 L249.0,263.6 L253.4,262.0 L257.7,259.7 L262.1,257.5 L266.4,255.4 L270.8,253.2 L275.1,250.8 L279.5,248.0 L283.8,244.3 L288.2,242.2 L292.6,240.0 L296.9,236.7 L301.3,233.9 L305.6,231.6 L310.0,228.9 L314.3,226.8 L318.7,223.7 L323.0,220.6 L327.4,217.6 L331.7,213.7 L336.1,210.0 L340.4,205.9 L344.8,200.5 L349.2,195.0 L353.5,188.9 L357.9,182.2 L362.2,176.9 L366.6,171.2 L370.9,165.7 L375.3,160.9 L379.6,155.8 L384.0,150.8 L388.3,145.7 L392.7,140.2 L397.1,135.1 L400.9,130.6" stroke="#bad700"/>
<path d="M101.0,266.3 L105.3,267.0 L109.7,267.4 L114.0,267.3 L118.4,267.5 L122.7,267.3 L127.1,267.1 L131.4,266.7 L135.8,266.4 L140.2,266.8 L144.5,267.6 L148.9,267.6 L153.2,268.0 L157.6,267.8 L161.9,268.2 L166.3,269.3 L170.6,269.6 L175.0,269.7 L179.3,270.5 L183.7,271.2 L188.1,272.6 L192.4,273.7 L196.8,274.2 L201.1,274.5 L205.5,274.8 L209.8,274.6 L214.2,273.9 L218.5,273.2 L222.9,272.6 L227.2,272.6 L231.6,272.3 L235.9,271.4 L240.3,270.8 L244.7,269.7 L249.0,268.9 L253.4,268.5 L257.7,268.1 L262.1,266.8 L266.4,265.0 L270.8,262.6 L275.1,259.4 L279.5,255.6 L283.8,252.3 L288.2,250.2 L292.6,248.0 L296.9,245.7 L301.3,242.4 L305.6,240.2 L310.0,236.9 L314.3,233.9 L318.7,230.8 L323.0,228.7 L327.4,224.7 L331.7,221.1 L336.1,217.1 L340.4,213.0 L344.8,207.9 L349.2,202.2 L353.5,195.7 L357.9,189.8 L362.2,183.9 L366.6,178.2 L370.9,172.7 L375.3,167.6 L379.6,162.8 L384.0,158.4 L388.3,153.8 L392.7,148.9 L397.1,144.3 L400.9,140.4" stroke="#83b700"/>
<path d="M101.0,268.0 L105.3,267.8 L109.7,268.0 L114.0,267.9 L118.4,267.8 L122.7,267.7 L127.1,268.3 L131.4,267.8 L135.8,268.0 L140.2,267.9 L144.5,268.1 L148.9,268.1 L153.2,268.1 L157.6,268.7 L161.9,269.6 L166.3,270.1 L170.6,270.3 L175.0,270.8 L179.3,270.6 L183.7,271.2 L188.1,271.9 L192.4,273.3 L196.8,279.6 L201.1,285.7 L205.5,288.2 L209.8,290.7 L214.2,293.5 L218.5,297.2 L222.9,299.6 L227.2,300.7 L231.6,303.1 L235.9,304.7 L240.3,305.5 L244.7,306.4 L249.0,306.4 L253.4,306.2 L257.7,307.4 L262.1,308.1 L266.4,308.1 L270.8,307.7 L275.1,307.4 L279.5,306.1 L283.8,304.9 L288.2,303.0 L292.6,302.1 L296.9,300.3 L301.3,297.4 L305.6,293.8 L310.0,290.3 L314.3,286.2 L318.7,281.6 L323.0,276.7 L327.4,272.4 L331.7,266.8 L336.1,260.1 L340.4,253.1 L344.8,243.5 L349.2,231.2 L353.5,217.1 L357.9,203.0 L362.2,190.0 L366.6,179.8 L370.9,170.8 L375.3,162.4 L379.6,154.1 L384.0,146.8 L388.3,139.2 L392.7,132.5 L397.1,126.1 L400.9,121.1" stroke="#8746dd"/>
<path d="M101.0,261.5 L105.3,261.3 L109.7,261.6 L114.0,262.1 L118.4,262.1 L122.7,261.8 L127.1,262.2 L131.4,263.6 L135.8,263.9 L140.2,265.0 L144.5,265.8 L148.9,266.0 L153.2,266.2 L157.6,266.3 L161.9,266.6 L166.3,266.9 L170.6,267.1 L175.0,267.7 L179.3,268.9 L183.7,269.7 L188.1,271.7 L192.4,273.6 L196.8,274.0 L201.1,274.0 L205.5,274.2 L209.8,274.0 L214.2,274.2 L218.5,274.4 L222.9,275.0 L227.2,274.7 L231.6,275.1 L235.9,275.3 L240.3,275.1 L244.7,275.3 L249.0,275.0 L253.4,273.4 L257.7,271.7 L262.1,270.0 L266.4,267.8 L270.8,265.6 L275.1,263.3 L279.5,260.8 L283.8,258.7 L288.2,256.4 L292.6,253.7 L296.9,251.2 L301.3,249.1 L305.6,247.2 L310.0,244.6 L314.3,241.2 L318.7,237.0 L323.0,232.1 L327.4,227.0 L331.7,222.7 L336.1,217.9 L340.4,213.2 L344.8,208.3 L349.2,203.4 L353.5,197.9 L357.9,192.8 L362.2,186.7 L366.6,181.2 L370.9,176.4 L375.3,171.6 L379.6,165.9 L384.0,161.1 L388.3,156.9 L392.7,152.4 L397.1,147.8 L400.9,144.2" stroke="#496d53"/>
<path d="M101.0,252.0 L105.3,251.8 L109.7,252.6 L114.0,253.1 L118.4,253.3 L122.7,253.5 L127.1,254.0 L131.4,255.3 L135.8,256.9 L140.2,257.0 L144.5,257.6 L148.9,259.7 L153.2,261.1 L157.6,261.2 L161.9,261.4 L166.3,261.8 L170.6,262.4 L175.0,263.6 L179.3,264.8 L183.7,266.5 L188.1,269.3 L192.4,273.0 L196.8,277.3 L201.1,280.2 L205.5,281.6 L209.8,282.5 L214.2,283.4 L218.5,285.9 L222.9,287.9 L227.2,289.7 L231.6,291.1 L235.9,292.4 L240.3,293.4 L244.7,293.7 L249.0,294.0 L253.4,295.0 L257.7,294.7 L262.1,294.9 L266.4,294.3 L270.8,293.7 L275.1,293.3 L279.5,292.4 L283.8,290.6 L288.2,289.6 L292.6,288.6 L296.9,286.4 L301.3,283.6 L305.6,281.1 L310.0,278.5 L314.3,275.4 L318.7,272.3 L323.0,268.4 L327.4,264.2 L331.7,259.8 L336.1,253.9 L340.4,247.3 L344.8,239.2 L349.2,229.9 L353.5,219.3 L357.9,209.1 L362.2,199.1 L366.6,191.7 L370.9,185.3 L375.3,179.1 L379.6,173.9 L384.0,169.2 L388.3,164.5 L392.7,160.8 L397.1,157.7 L400.9,155.8" stroke="#503cc4"/>
<path d="M101.0,266.4 L105.3,267.0 L109.7,267.7 L114.0,267.3 L118.4,266.7 L122.7,266.9 L127.1,267.0 L131.4,267.6 L135.8,267.8 L140.2,267.6 L144.5,267.7 L148.9,268.2 L153.2,267.9 L157.6,268.3 L161.9,269.1 L166.3,269.8 L170.6,269.8 L175.0,270.0 L179.3,270.6 L183.7,271.3 L188.1,271.8 L192.4,273.2 L196.8,293.2 L201.1,305.7 L205.5,314.3 L209.8,322.6 L214.2,331.4 L218.5,339.6 L222.9,346.7 L227.2,354.2 L231.6,360.0 L235.9,363.0 L240.3,366.0 L244.7,368.5 L249.0,369.1 L253.4,370.1 L257.7,370.7 L262.1,371.0 L266.4,371.6 L270.8,372.2 L275.1,371.1 L279.5,369.9 L283.8,368.3 L288.2,366.0 L292.6,362.4 L296.9,355.8 L301.3,348.0 L305.6,342.9 L310.0,340.1 L314.3,336.7 L318.7,329.4 L323.0,319.4 L327.4,309.4 L331.7,299.3 L336.1,290.4 L340.4,282.8 L344.8,276.5 L349.2,269.4 L353.5,261.7 L357.9,254.5 L362.2,248.7 L366.6,242.4 L370.9,237.0 L375.3,231.5 L379.6,226.4 L384.0,222.3 L388.3,218.7 L392.7,214.6 L397.1,210.4 L400.9,206.7" stroke="#9553d5"/>
<path d="M101.0,255.0 L105.3,255.2 L109.7,255.0 L114.0,254.3 L118.4,254.5 L122.7,255.3 L127.1,255.9 L131.4,256.9 L135.8,258.1 L140.2,260.0 L144.5,260.9 L148.9,260.8 L153.2,261.3 L157.6,262.2 L161.9,262.6 L166.3,262.9 L170.6,264.4 L175.0,265.5 L179.3,265.8 L183.7,267.3 L188.1,269.7 L192.4,272.9 L196.8,277.9 L201.1,281.5 L205.5,282.7 L209.8,283.6 L214.2,285.7 L218.5,287.9 L222.9,290.0 L227.2,290.7 L231.6,291.8 L235.9,293.2 L240.3,294.8 L244.7,295.2 L249.0,295.5 L253.4,296.1 L257.7,296.6 L262.1,296.7 L266.4,296.4 L270.8,295.8 L275.1,295.0 L279.5,294.3 L283.8,292.6 L288.2,291.7 L292.6,289.4 L296.9,287.2 L301.3,284.4 L305.6,281.2 L310.0,277.4 L314.3,273.9 L318.7,268.6 L323.0,263.6 L327.4,258.9 L331.7,253.9 L336.1,246.9 L340.4,240.6 L344.8,232.8 L349.2,223.5 L353.5,212.4 L357.9,200.0 L362.2,185.8 L366.6,172.1 L370.9,158.7 L375.3,147.0 L379.6,136.8 L384.0,127.5 L388.3,117.7 L392.7,107.9 L397.1,98.9 L400.9,92.3" stroke="#4933d3"/>
<path d="M101.0,258.5 L105.3,258.3 L109.7,258.5 L114.0,258.8 L118.4,258.8 L122.7,258.9 L127.1,258.6 L131.4,259.3 L135.8,260.9 L140.2,262.3 L144.5,262.9 L148.9,263.3 L153.2,263.6 L157.6,264.2 L161.9,264.8 L166.3,265.2 L170.6,265.8 L175.0,266.7 L179.3,267.1 L183.7,268.1 L188.1,270.4 L192.4,273.2 L196.8,275.9 L201.1,277.5 L205.5,277.8 L209.8,278.2 L214.2,278.7 L218.5,279.4 L222.9,279.9 L227.2,280.2 L231.6,280.2 L235.9,279.8 L240.3,279.4 L244.7,279.8 L249.0,279.4 L253.4,279.5 L257.7,279.6 L262.1,279.5 L266.4,278.7 L270.8,277.1 L275.1,274.9 L279.5,272.9 L283.8,270.8 L288.2,269.0 L292.6,266.2 L296.9,262.9 L301.3,260.1 L305.6,256.4 L310.0,253.2 L314.3,250.2 L318.7,247.1 L323.0,242.5 L327.4,237.2 L331.7,232.6 L336.1,228.8 L340.4,223.6 L344.8,217.2 L349.2,211.1 L353.5,205.5 L357.9,199.9 L362.2,193.9 L366.6,188.6 L370.9,183.6 L375.3,179.1 L379.6,175.3 L384.0,171.8 L388.3,167.0 L392.7,162.6 L397.1,159.3 L400.9,157.2" stroke="#574aa8"/>
<path d="M101.0,261.6 L105.3,261.9 L109.7,261.8 L114.0,261.8 L118.4,262.0 L122.7,261.3 L127.1,262.1 L131.4,262.5 L135.8,262.8 L140.2,263.9 L144.5,264.9 L148.9,265.4 L153.2,265.8 L157.6,265.7 L161.9,266.3 L166.3,267.0 L170.6,267.2 L175.0,267.9 L179.3,268.9 L183.7,269.6 L188.1,271.5 L192.4,273.5 L196.8,274.5 L201.1,275.1 L205.5,275.8 L209.8,276.4 L214.2,276.8 L218.5,277.3 L222.9,277.7 L227.2,278.1 L231.6,277.6 L235.9,276.9 L240.3,276.3 L244.7,275.5 L249.0,275.1 L253.4,274.5 L257.7,273.5 L262.1,273.2 L266.4,272.4 L270.8,271.5 L275.1,269.7 L279.5,267.8 L283.8,265.9 L288.2,264.0 L292.6,261.5 L296.9,259.0 L301.3,255.4 L305.6,252.3 L310.0,249.1 L314.3,245.4 L318.7,241.2 L323.0,237.9 L327.4,233.8 L331.7,229.9 L336.1,225.9 L340.4,221.8 L344.8,217.2 L349.2,212.0 L353.5,205.4 L357.9,199.3 L362.2,193.6 L366.6,188.8 L370.9,184.8 L375.3,180.9 L379.6,176.9 L384.0,173.6 L388.3,170.7 L392.7,168.2 L397.1,165.9 L400.9,163.7" stroke="#565d7e"/>
<path d="M101.0,264.3 L105.3,264.7 L109.7,264.8 L114.0,264.9 L118.4,264.5 L122.7,264.7 L127.1,265.4 L131.4,265.8 L135.8,266.3 L140.2,267.0 L144.5,267.6 L148.9,268.2 L153.2,269.3 L157.6,269.6 L161.9,269.6 L166.3,269.0 L170.6,269.7 L175.0,269.8 L179.3,270.2 L183.7,270.6 L188.1,271.6 L192.4,273.2 L196.8,282.2 L201.1,291.1 L205.5,294.9 L209.8,298.1 L214.2,301.9 L218.5,306.0 L222.9,309.4 L227.2,313.4 L231.6,316.5 L235.9,318.6 L240.3,321.0 L244.7,323.5 L249.0,325.3 L253.4,326.5 L257.7,327.2 L262.1,328.3 L266.4,328.7 L270.8,328.5 L275.1,328.8 L279.5,328.6 L283.8,328.5 L288.2,328.6 L292.6,327.1 L296.9,324.7 L301.3,321.1 L305.6,317.7 L310.0,314.3 L314.3,310.9 L318.7,306.8 L323.0,302.2 L327.4,297.0 L331.7,291.6 L336.1,285.8 L340.4,278.6 L344.8,269.1 L349.2,257.8 L353.5,245.8 L357.9,232.8 L362.2,221.5 L366.6,213.0 L370.9,205.8 L375.3,197.3 L379.6,190.1 L384.0,184.0 L388.3,178.3 L392.7,173.0 L397.1,168.2 L400.9,164.9" stroke="#5b26f1"/>
<path d="M101.0,257.9 L105.3,257.6 L109.7,257.3 L114.0,258.0 L118.4,258.6 L122.7,258.9 L127.1,259.2 L131.4,259.6 L135.8,260.1 L140.2,261.2 L144.5,261.8 L148.9,262.0 L153.2,262.5 L157.6,263.5 L161.9,264.1 L166.3,264.4 L170.6,265.1 L175.0,265.9 L179.3,266.8 L183.7,268.3 L188.1,270.2 L192.4,272.9 L196.8,281.6 L201.1,289.5 L205.5,292.9 L209.8,295.5 L214.2,297.9 L218.5,301.2 L222.9,304.0 L227.2,305.6 L231.6,307.8 L235.9,309.7 L240.3,311.3 L244.7,313.1 L249.0,314.3 L253.4,315.1 L257.7,315.6 L262.1,315.6 L266.4,315.9 L270.8,316.6 L275.1,316.1 L279.5,314.9 L283.8,314.5 L288.2,314.7 L292.6,313.5 L296.9,310.3 L301.3,305.4 L305.6,300.5 L310.0,296.0 L314.3,291.6 L318.7,287.0 L323.0,281.9 L327.4,276.3 L331.7,270.1 L336.1,263.4 L340.4,255.9 L344.8,246.2 L349.2,234.9 L353.5,222.9 L357.9,210.5 L362.2,200.3 L366.6,192.3 L370.9,184.9 L375.3,178.0 L379.6,171.8 L384.0,165.5 L388.3,160.4 L392.7,155.9 L397.1,152.7 L400.9,150.0" stroke="#471af7"/>
<path d="M101.0,250.8 L105.3,251.7 L109.7,252.2 L114.0,251.7 L118.4,251.9 L122.7,252.2 L127.1,253.3 L131.4,254.6 L135.8,255.0 L140.2,256.4 L144.5,258.1 L148.9,258.3 L153.2,258.5 L157.6,258.7 L161.9,259.7 L166.3,261.2 L170.6,262.2 L175.0,262.9 L179.3,264.4 L183.7,265.9 L188.1,268.7 L192.4,272.7 L196.8,280.2 L201.1,286.0 L205.5,288.8 L209.8,290.9 L214.2,292.7 L218.5,294.0 L222.9,295.2 L227.2,296.5 L231.6,298.7 L235.9,300.6 L240.3,301.6 L244.7,302.3 L249.0,303.5 L253.4,304.6 L257.7,305.2 L262.1,305.1 L266.4,304.6 L270.8,304.2 L275.1,303.6 L279.5,302.7 L283.8,301.7 L288.2,301.4 L292.6,299.7 L296.9,296.8 L301.3,292.9 L305.6,288.8 L310.0,283.8 L314.3,279.1 L318.7,275.0 L323.0,271.0 L327.4,265.2 L331.7,258.7 L336.1,252.2 L340.4,245.4 L344.8,236.3 L349.2,225.0 L353.5,212.4 L357.9,200.4 L362.2,190.3 L366.6,182.7 L370.9,176.3 L375.3,169.2 L379.6,162.6 L384.0,156.9 L388.3,152.2 L392.7,148.8 L397.1,146.3 L400.9,144.7" stroke="#2d1af0"/>
<path d="M101.0,266.3 L105.3,266.5 L109.7,267.1 L114.0,267.7 L118.4,268.2 L122.7,268.4 L127.1,268.3 L131.4,268.2 L135.8,268.3 L140.2,269.1 L144.5,269.6 L148.9,270.7 L153.2,270.7 L157.6,269.8 L161.9,269.9 L166.3,269.8 L170.6,269.2 L175.0,270.0 L179.3,270.9 L183.7,271.4 L188.1,272.0 L192.4,273.4 L196.8,282.1 L201.1,291.1 L205.5,295.3 L209.8,298.4 L214.2,301.2 L218.5,304.9 L222.9,308.2 L227.2,310.1 L231.6,311.8 L235.9,314.1 L240.3,316.3 L244.7,317.9 L249.0,318.5 L253.4,319.0 L257.7,319.7 L262.1,320.2 L266.4,319.9 L270.8,319.4 L275.1,318.2 L279.5,316.7 L283.8,314.9 L288.2,313.7 L292.6,311.5 L296.9,309.0 L301.3,306.3 L305.6,303.1 L310.0,299.8 L314.3,296.8 L318.7,293.8 L323.0,290.3 L327.4,286.1 L331.7,281.8 L336.1,277.4 L340.4,271.7 L344.8,263.0 L349.2,251.3 L353.5,237.8 L357.9,224.7 L362.2,213.2 L366.6,204.9 L370.9,197.0 L375.3,189.0 L379.6,181.8 L384.0,176.3 L388.3,171.0 L392.7,165.5 L397.1,161.0 L400.9,158.5" stroke="#6a30eb"/>
<path d="M101.0,268.8 L105.3,268.4 L109.7,268.0 L114.0,268.3 L118.4,268.6 L122.7,268.7 L127.1,269.0 L131.4,269.6 L135.8,269.6 L140.2,269.7 L144.5,269.8 L148.9,270.4 L153.2,270.4 L157.6,270.6 L161.9,270.8 L166.3,271.0 L170.6,271.1 L175.0,271.5 L179.3,271.7 L183.7,272.0 L188.1,272.9 L192.4,273.8 L196.8,273.8 L201.1,273.6 L205.5,273.0 L209.8,272.3 L214.2,271.6 L218.5,270.6 L222.9,269.4 L227.2,269.0 L231.6,268.9 L235.9,268.3 L240.3,266.7 L244.7,265.1 L249.0,263.1 L253.4,261.0 L257.7,259.4 L262.1,257.5 L266.4,255.1 L270.8,253.4 L275.1,251.3 L279.5,249.1 L283.8,247.2 L288.2,245.4 L292.6,242.0 L296.9,237.8 L301.3,233.7 L305.6,230.0 L310.0,226.4 L314.3,223.9 L318.7,220.8 L323.0,217.5 L327.4,214.6 L331.7,212.3 L336.1,209.0 L340.4,205.2 L344.8,199.7 L349.2,193.4 L353.5,186.8 L357.9,180.0 L362.2,173.7 L366.6,168.0 L370.9,162.1 L375.3,156.1 L379.6,150.4 L384.0,145.0 L388.3,139.3 L392.7,134.0 L397.1,129.3 L400.9,124.8" stroke="#c8df00"/>
<path d="M101.0,263.2 L105.3,263.3 L109.7,263.6 L114.0,264.1 L118.4,264.4 L122.7,264.7 L127.1,263.8 L131.4,264.3 L135.8,264.4 L140.2,264.4 L144.5,264.7 L148.9,265.4 L153.2,266.4 L157.6,266.9 L161.9,266.9 L166.3,267.0 L170.6,267.2 L175.0,267.9 L179.3,268.7 L183.7,269.8 L188.1,271.5 L192.4,273.4 L196.8,276.0 L201.1,278.2 L205.5,279.4 L209.8,279.8 L214.2,279.2 L218.5,279.4 L222.9,280.2 L227.2,279.9 L231.6,279.5 L235.9,280.2 L240.3,281.1 L244.7,281.4 L249.0,281.7 L253.4,282.2 L257.7,282.5 L262.1,282.9 L266.4,281.4 L270.8,279.1 L275.1,277.9 L279.5,275.7 L283.8,272.7 L288.2,270.8 L292.6,269.1 L296.9,267.0 L301.3,264.8 L305.6,263.0 L310.0,261.5 L314.3,258.4 L318.7,254.8 L323.0,250.9 L327.4,246.0 L331.7,241.0 L336.1,235.8 L340.4,231.2 L344.8,226.8 L349.2,220.8 L353.5,214.4 L357.9,209.3 L362.2,204.5 L366.6,200.8 L370.9,198.1 L375.3,195.0 L379.6,192.3 L384.0,190.0 L388.3,188.0 L392.7,186.8 L397.1,186.1 L400.9,185.9" stroke="#4f6861"/>
<path d="M101.0,262.3 L105.3,262.6 L109.7,262.8 L114.0,262.8 L118.4,262.9 L122.7,263.1 L127.1,263.0 L131.4,262.9 L135.8,263.3 L140.2,263.7 L144.5,264.1 L148.9,264.6 L153.2,265.6 L157.6,266.7 L161.9,267.9 L166.3,268.1 L170.6,268.8 L175.0,268.7 L179.3,269.1 L183.7,270.0 L188.1,271.3 L192.4,273.2 L196.8,277.7 L201.1,281.4 L205.5,283.2 L209.8,284.9 L214.2,286.5 L218.5,288.0 L222.9,289.4 L227.2,291.7 L231.6,293.1 L235.9,293.7 L240.3,294.7 L244.7,295.6 L249.0,296.2 L253.4,297.8 L257.7,298.4 L262.1,298.5 L266.4,297.7 L270.8,296.9 L275.1,296.1 L279.5,295.7 L283.8,294.6 L288.2,292.7 L292.6,290.7 L296.9,289.4 L301.3,286.1 L305.6,282.8 L310.0,279.9 L314.3,277.1 L318.7,273.3 L323.0,268.5 L327.4,263.7 L331.7,258.6 L336.1,252.1 L340.4,245.5 L344.8,238.3 L349.2,229.7 L353.5,220.8 L357.9,211.9 L362.2,204.0 L366.6,198.6 L370.9,194.7 L375.3,190.6 L379.6,186.6 L384.0,182.9 L388.3,180.1 L392.7,178.4 L397.1,177.0 L400.9,176.7" stroke="#367734"/>
<path d="M101.0,254.3 L105.3,254.7 L109.7,254.5 L114.0,254.5 L118.4,255.2 L122.7,255.2 L127.1,255.3 L131.4,256.4 L135.8,257.6 L140.2,257.9 L144.5,258.9 L148.9,261.0 L153.2,262.3 L157.6,263.0 L161.9,263.1 L166.3,263.8 L170.6,264.3 L175.0,265.2 L179.3,265.6 L183.7,267.0 L188.1,269.5 L192.4,272.9 L196.8,278.0 L201.1,282.0 L205.5,283.9 L209.8,285.6 L214.2,287.1 L218.5,288.8 L222.9,290.9 L227.2,292.4 L231.6,293.9 L235.9,294.6 L240.3,295.2 L244.7,296.7 L249.0,298.8 L253.4,300.2 L257.7,300.5 L262.1,300.2 L266.4,299.6 L270.8,298.9 L275.1,298.0 L279.5,296.4 L283.8,294.3 L288.2,292.6 L292.6,291.0 L296.9,290.2 L301.3,289.1 L305.6,286.8 L310.0,284.2 L314.3,281.6 L318.7,278.7 L323.0,275.6 L327.4,271.8 L331.7,267.1 L336.1,261.7 L340.4,256.0 L344.8,248.7 L349.2,238.9 L353.5,228.7 L357.9,219.5 L362.2,211.1 L366.6,203.6 L370.9,196.2 L375.3,189.7 L379.6,183.7 L384.0,178.0 L388.3,173.6 L392.7,169.4 L397.1,165.3 L400.9,162.1" stroke="#3e28e1"/>
<path d="M101.0,271.0 L105.3,271.1 L109.7,270.5 L114.0,270.5 L118.4,270.1 L122.7,269.6 L127.1,270.1 L131.4,271.0 L135.8,271.6 L140.2,271.9 L144.5,272.2 L148.9,271.9 L153.2,272.0 L157.6,272.1 L161.9,272.3 L166.3,271.8 L170.6,271.5 L175.0,271.3 L179.3,271.7 L183.7,272.2 L188.1,272.9 L192.4,273.6 L196.8,282.2 L201.1,291.6 L205.5,295.6 L209.8,298.6 L214.2,301.5 L218.5,304.2 L222.9,306.8 L227.2,309.9 L231.6,312.1 L235.9,314.2 L240.3,317.0 L244.7,319.6 L249.0,321.5 L253.4,323.2 L257.7,324.1 L262.1,324.5 L266.4,323.9 L270.8,322.7 L275.1,322.4 L279.5,322.0 L283.8,320.2 L288.2,318.4 L292.6,316.0 L296.9,313.1 L301.3,310.5 L305.6,307.1 L310.0,302.9 L314.3,298.3 L318.7,294.1 L323.0,289.8 L327.4,285.5 L331.7,279.7 L336.1,274.0 L340.4,267.4 L344.8,257.6 L349.2,244.6 L353.5,231.6 L357.9,217.9 L362.2,205.2 L366.6,194.9 L370.9,186.9 L375.3,179.0 L379.6,171.5 L384.0,164.5 L388.3,158.6 L392.7,153.7 L397.1,149.7 L400.9,146.8" stroke="#8746dd"/>
<path d="M101.0,256.0 L105.3,256.0 L109.7,255.7 L114.0,255.9 L118.4,256.9 L122.7,258.0 L127.1,257.8 L131.4,258.7 L135.8,259.1 L140.2,260.1 L144.5,261.6 L148.9,262.6 L153.2,261.9 L157.6,261.9 L161.9,262.9 L166.3,264.0 L170.6,264.9 L175.0,265.5 L179.3,266.2 L183.7,267.3 L188.1,269.5 L192.4,272.8 L196.8,280.0 L201.1,285.9 L205.5,288.9 L209.8,291.1 L214.2,293.4 L218.5,296.1 L222.9,298.3 L227.2,299.4 L231.6,301.8 L235.9,303.6 L240.3,305.6 L244.7,306.8 L249.0,307.5 L253.4,308.5 L257.7,309.1 L262.1,309.1 L266.4,308.9 L270.8,308.9 L275.1,308.7 L279.5,307.7 L283.8,306.6 L288.2,305.8 L292.6,303.8 L296.9,300.6 L301.3,297.3 L305.6,293.5 L310.0,290.1 L314.3,286.9 L318.7,283.3 L323.0,278.7 L327.4,273.8 L331.7,267.4 L336.1,261.3 L340.4,255.3 L344.8,246.7 L349.2,235.7 L353.5,223.7 L357.9,212.6 L362.2,202.8 L366.6,194.6 L370.9,188.2 L375.3,181.9 L379.6,175.4 L384.0,170.2 L388.3,165.1 L392.7,160.0 L397.1,157.0 L400.9,154.7" stroke="#3a13f9"/>
</g>
<g class="lines" clip-path="url(#cm)">
<path d="M431.5,287.5 L435.8,286.7 L440.2,285.7 L444.5,285.3 L448.9,285.0 L453.2,284.4 L457.6,283.7 L461.9,283.0 L466.3,282.4 L470.7,281.5 L475.0,280.4 L479.4,279.4 L483.7,278.6 L488.1,277.9 L492.4,277.7 L496.8,276.9 L501.1,276.1 L505.5,275.7 L509.8,274.9 L514.2,274.5 L518.6,274.2 L522.9,273.9 L527.3,273.8 L531.6,273.7 L536.0,273.5 L540.3,273.7 L544.7,273.9 L549.0,274.1 L553.4,273.4 L557.7,272.9 L562.1,273.1 L566.4,273.1 L570.8,272.2 L575.2,271.5 L579.5,270.9 L583.9,270.7 L588.2,270.3 L592.6,268.9 L596.9,267.6 L601.3,266.1 L605.6,265.1 L610.0,264.2 L614.3,262.9 L618.7,261.4 L623.1,259.9 L627.4,258.0 L631.8,255.7 L636.1,253.5 L640.5,251.0 L644.8,248.5 L649.2,245.7 L653.5,243.0 L657.9,239.5 L662.2,235.8 L666.6,231.9 L670.9,228.4 L675.3,224.0 L679.7,219.7 L684.0,215.1 L688.4,209.8 L692.7,204.7 L697.1,200.5 L701.4,196.5 L705.8,192.4 L710.1,188.5 L714.5,185.1 L718.8,181.7 L723.2,178.1 L727.6,175.1 L731.4,172.8" stroke="#fff400"/>
<path d="M431.5,298.8 L435.8,297.8 L440.2,296.7 L444.5,295.6 L448.9,294.0 L453.2,293.2 L457.6,291.7 L461.9,290.2 L466.3,288.7 L470.7,287.6 L475.0,286.6 L479.4,285.8 L483.7,285.0 L488.1,283.3 L492.4,281.8 L496.8,280.3 L501.1,279.1 L505.5,277.5 L509.8,276.0 L514.2,274.9 L518.6,274.4 L522.9,273.9 L527.3,273.8 L531.6,273.7 L536.0,274.0 L540.3,274.1 L544.7,273.8 L549.0,273.5 L553.4,273.1 L557.7,272.9 L562.1,272.5 L566.4,271.2 L570.8,270.5 L575.2,270.7 L579.5,270.2 L583.9,269.9 L588.2,269.2 L592.6,268.4 L596.9,267.5 L601.3,265.9 L605.6,264.0 L610.0,262.9 L614.3,260.8 L618.7,259.0 L623.1,257.0 L627.4,254.9 L631.8,252.2 L636.1,249.8 L640.5,246.7 L644.8,244.1 L649.2,241.3 L653.5,238.6 L657.9,234.8 L662.2,231.1 L666.6,227.0 L670.9,223.0 L675.3,218.5 L679.7,213.5 L684.0,208.4 L688.4,204.1 L692.7,199.1 L697.1,194.3 L701.4,190.4 L705.8,187.0 L710.1,183.6 L714.5,180.7 L718.8,177.3 L723.2,174.2 L727.6,172.0 L731.4,170.4" stroke="#fff900"/>
<path d="M431.5,282.7 L435.8,283.0 L440.2,282.8 L444.5,282.5 L448.9,281.7 L453.2,281.4 L457.6,281.0 L461.9,280.7 L466.3,279.9 L470.7,279.9 L475.0,279.0 L479.4,278.5 L483.7,278.1 L488.1,277.3 L492.4,276.1 L496.8,275.3 L501.1,274.5 L505.5,274.4 L509.8,274.3 L514.2,273.9 L518.6,273.8 L522.9,273.8 L527.3,277.8 L531.6,282.7 L536.0,285.3 L540.3,286.7 L544.7,287.2 L549.0,287.4 L553.4,287.8 L557.7,287.8 L562.1,288.1 L566.4,288.9 L570.8,289.6 L575.2,290.1 L579.5,290.7 L583.9,291.5 L588.2,292.8 L592.6,292.9 L596.9,292.3 L601.3,292.4 L605.6,292.6 L610.0,292.7 L614.3,292.8 L618.7,292.9 L623.1,292.5 L627.4,291.7 L631.8,289.9 L636.1,288.3 L640.5,286.3 L644.8,284.5 L649.2,282.5 L653.5,280.1 L657.9,277.1 L662.2,274.0 L666.6,270.2 L670.9,266.6 L675.3,261.8 L679.7,255.9 L684.0,249.4 L688.4,242.2 L692.7,236.3 L697.1,232.0 L701.4,228.0 L705.8,224.1 L710.1,220.5 L714.5,216.7 L718.8,213.5 L723.2,210.1 L727.6,206.9 L731.4,204.0" stroke="#5220f4"/>
<path d="M431.5,292.0 L435.8,291.3 L440.2,290.4 L444.5,289.4 L448.9,289.1 L453.2,288.7 L457.6,288.1 L461.9,286.8 L466.3,285.7 L470.7,284.3 L475.0,283.3 L479.4,282.8 L483.7,282.0 L488.1,280.6 L492.4,279.6 L496.8,278.8 L501.1,277.6 L505.5,276.4 L509.8,275.4 L514.2,275.1 L518.6,274.4 L522.9,273.9 L527.3,282.6 L531.6,292.9 L536.0,297.5 L540.3,300.6 L544.7,303.0 L549.0,305.2 L553.4,306.8 L557.7,308.5 L562.1,309.7 L566.4,311.5 L570.8,312.9 L575.2,314.1 L579.5,315.6 L583.9,317.1 L588.2,317.7 L592.6,318.5 L596.9,318.7 L601.3,319.3 L605.6,319.2 L610.0,319.6 L614.3,319.8 L618.7,319.8 L623.1,319.1 L627.4,316.7 L631.8,313.4 L636.1,310.3 L640.5,306.3 L644.8,302.1 L649.2,298.5 L653.5,294.9 L657.9,290.3 L662.2,285.8 L666.6,281.1 L670.9,275.7 L675.3,269.0 L679.7,261.4 L684.0,253.8 L688.4,246.9 L692.7,240.6 L697.1,235.3 L701.4,230.1 L705.8,225.5 L710.1,221.2 L714.5,217.3 L718.8,213.8 L723.2,210.6 L727.6,207.6 L731.4,205.4" stroke="#7d3ee3"/>
<path d="M431.5,285.3 L435.8,284.7 L440.2,284.3 L444.5,284.3 L448.9,283.5 L453.2,282.7 L457.6,282.5 L461.9,281.9 L466.3,280.9 L470.7,280.6 L475.0,279.6 L479.4,279.4 L483.7,278.9 L488.1,278.0 L492.4,277.4 L496.8,276.8 L501.1,275.8 L505.5,275.0 L509.8,274.1 L514.2,274.1 L518.6,273.9 L522.9,273.8 L527.3,274.1 L531.6,275.0 L536.0,275.9 L540.3,276.9 L544.7,277.3 L549.0,277.4 L553.4,277.9 L557.7,278.5 L562.1,279.0 L566.4,279.2 L570.8,278.5 L575.2,278.3 L579.5,278.4 L583.9,278.7 L588.2,279.1 L592.6,279.0 L596.9,278.5 L601.3,277.6 L605.6,276.4 L610.0,275.0 L614.3,273.6 L618.7,272.0 L623.1,271.2 L627.4,270.5 L631.8,268.8 L636.1,267.0 L640.5,265.5 L644.8,263.7 L649.2,261.7 L653.5,259.5 L657.9,257.2 L662.2,254.7 L666.6,251.7 L670.9,248.2 L675.3,244.3 L679.7,239.6 L684.0,234.2 L688.4,228.9 L692.7,224.2 L697.1,219.1 L701.4,214.1 L705.8,209.2 L710.1,203.9 L714.5,199.4 L718.8,194.9 L723.2,190.0 L727.6,185.0 L731.4,180.6" stroke="#536370"/>
<path d="M431.5,285.7 L435.8,285.2 L440.2,284.9 L444.5,284.3 L448.9,283.6 L453.2,282.5 L457.6,282.1 L461.9,282.0 L466.3,281.6 L470.7,280.8 L475.0,280.4 L479.4,279.7 L483.7,278.8 L488.1,278.0 L492.4,276.9 L496.8,276.3 L501.1,275.9 L505.5,275.0 L509.8,274.4 L514.2,274.0 L518.6,273.8 L522.9,273.8 L527.3,281.2 L531.6,289.9 L536.0,293.7 L540.3,296.8 L544.7,299.6 L549.0,301.7 L553.4,304.1 L557.7,305.7 L562.1,306.9 L566.4,308.2 L570.8,309.5 L575.2,311.4 L579.5,312.8 L583.9,313.5 L588.2,313.9 L592.6,314.2 L596.9,314.2 L601.3,314.1 L605.6,313.1 L610.0,312.7 L614.3,312.0 L618.7,311.1 L623.1,309.9 L627.4,307.7 L631.8,304.8 L636.1,301.9 L640.5,298.6 L644.8,295.9 L649.2,293.0 L653.5,289.1 L657.9,284.4 L662.2,279.6 L666.6,274.6 L670.9,270.1 L675.3,264.4 L679.7,256.5 L684.0,248.3 L688.4,241.4 L692.7,235.0 L697.1,230.0 L701.4,225.3 L705.8,219.7 L710.1,215.0 L714.5,211.0 L718.8,206.6 L723.2,202.4 L727.6,199.6 L731.4,197.4" stroke="#632bee"/>
<path d="M431.5,280.7 L435.8,280.1 L440.2,279.6 L444.5,279.5 L448.9,278.9 L453.2,278.7 L457.6,278.4 L461.9,277.9 L466.3,277.6 L470.7,277.7 L475.0,277.1 L479.4,276.9 L483.7,276.6 L488.1,276.1 L492.4,275.7 L496.8,275.3 L501.1,274.9 L505.5,274.1 L509.8,273.6 L514.2,273.4 L518.6,273.7 L522.9,273.8 L527.3,277.4 L531.6,281.7 L536.0,283.8 L540.3,285.3 L544.7,286.2 L549.0,287.0 L553.4,287.2 L557.7,287.4 L562.1,287.5 L566.4,287.9 L570.8,288.3 L575.2,289.0 L579.5,289.0 L583.9,289.2 L588.2,289.4 L592.6,289.8 L596.9,289.2 L601.3,289.1 L605.6,289.6 L610.0,290.1 L614.3,290.0 L618.7,289.6 L623.1,288.5 L627.4,288.1 L631.8,287.0 L636.1,285.5 L640.5,282.9 L644.8,281.0 L649.2,279.6 L653.5,277.5 L657.9,274.8 L662.2,272.3 L666.6,268.8 L670.9,265.4 L675.3,260.8 L679.7,254.8 L684.0,248.3 L688.4,242.1 L692.7,236.5 L697.1,231.8 L701.4,227.6 L705.8,223.1 L710.1,219.0 L714.5,215.0 L718.8,210.7 L723.2,206.6 L727.6,203.0 L731.4,200.0" stroke="#8242e0"/>
<path d="M431.5,283.6 L435.8,283.2 L440.2,282.9 L444.5,282.6 L448.9,281.9 L453.2,281.3 L457.6,280.5 L461.9,280.1 L466.3,279.8 L470.7,279.3 L475.0,278.5 L479.4,277.9 L483.7,277.9 L488.1,277.5 L492.4,276.7 L496.8,275.8 L501.1,275.5 L505.5,274.8 L509.8,274.3 L514.2,274.0 L518.6,273.9 L522.9,273.8 L527.3,274.0 L531.6,274.3 L536.0,274.6 L540.3,274.7 L544.7,274.2 L549.0,274.2 L553.4,274.0 L557.7,273.9 L562.1,274.1 L566.4,274.0 L570.8,273.5 L575.2,273.3 L579.5,272.4 L583.9,272.0 L588.2,271.8 L592.6,271.8 L596.9,270.9 L601.3,269.9 L605.6,268.7 L610.0,267.4 L614.3,265.4 L618.7,264.2 L623.1,262.7 L627.4,260.4 L631.8,258.1 L636.1,256.0 L640.5,253.9 L644.8,252.1 L649.2,250.2 L653.5,247.4 L657.9,244.0 L662.2,240.7 L666.6,237.4 L670.9,233.3 L675.3,229.1 L679.7,224.1 L684.0,218.7 L688.4,214.0 L692.7,209.9 L697.1,205.6 L701.4,201.3 L705.8,196.9 L710.1,193.2 L714.5,189.7 L718.8,186.1 L723.2,182.9 L727.6,180.0 L731.4,177.2" stroke="#e3ef00"/>
<path d="M431.5,278.1 L435.8,277.7 L440.2,277.8 L444.5,277.7 L448.9,277.1 L453.2,276.6 L457.6,276.5 L461.9,276.4 L466.3,276.2 L470.7,275.9 L475.0,275.5 L479.4,275.3 L483.7,275.1 L488.1,275.2 L492.4,274.8 L496.8,274.4 L501.1,274.5 L505.5,274.5 L509.8,274.1 L514.2,273.8 L518.6,273.6 L522.9,273.8 L527.3,280.3 L531.6,287.8 L536.0,291.1 L540.3,293.0 L544.7,294.7 L549.0,295.9 L553.4,296.8 L557.7,297.6 L562.1,299.1 L566.4,300.5 L570.8,302.2 L575.2,303.6 L579.5,305.1 L583.9,306.1 L588.2,306.5 L592.6,306.8 L596.9,306.8 L601.3,306.5 L605.6,305.7 L610.0,304.8 L614.3,303.8 L618.7,303.3 L623.1,302.7 L627.4,301.6 L631.8,299.4 L636.1,297.4 L640.5,295.2 L644.8,293.0 L649.2,289.8 L653.5,286.9 L657.9,284.9 L662.2,281.9 L666.6,277.1 L670.9,272.3 L675.3,266.7 L679.7,260.0 L684.0,252.3 L688.4,244.4 L692.7,237.3 L697.1,232.0 L701.4,227.3 L705.8,222.3 L710.1,217.8 L714.5,214.4 L718.8,210.6 L723.2,206.5 L727.6,203.3 L731.4,201.2" stroke="#3a13f9"/>
<path d="M431.5,290.9 L435.8,290.1 L440.2,289.0 L444.5,287.8 L448.9,287.2 L453.2,286.3 L457.6,285.8 L461.9,285.4 L466.3,284.2 L470.7,283.3 L475.0,282.5 L479.4,282.1 L483.7,281.5 L488.1,280.2 L492.4,279.3 L496.8,278.1 L501.1,276.6 L505.5,276.0 L509.8,275.6 L514.2,274.9 L518.6,274.3 L522.9,273.9 L527.3,274.2 L531.6,275.2 L536.0,276.4 L540.3,276.7 L544.7,276.3 L549.0,276.0 L553.4,275.8 L557.7,275.6 L562.1,275.2 L566.4,274.8 L570.8,274.7 L575.2,274.4 L579.5,274.4 L583.9,274.6 L588.2,274.1 L592.6,273.5 L596.9,272.8 L601.3,271.5 L605.6,269.5 L610.0,267.4 L614.3,264.7 L618.7,262.7 L623.1,261.1 L627.4,259.5 L631.8,257.7 L636.1,256.6 L640.5,255.2 L644.8,253.1 L649.2,250.7 L653.5,247.8 L657.9,245.2 L662.2,242.3 L666.6,238.9 L670.9,235.0 L675.3,231.2 L679.7,226.3 L684.0,220.5 L688.4,214.4 L692.7,209.2 L697.1,203.9 L701.4,198.7 L705.8,193.0 L710.1,187.9 L714.5,183.1 L718.8,177.9 L723.2,172.2 L727.6,167.4 L731.4,163.2" stroke="#589f00"/>
<path d="M431.5,281.5 L435.8,281.2 L440.2,280.7 L444.5,280.4 L448.9,280.4 L453.2,280.0 L457.6,279.7 L461.9,279.2 L466.3,278.3 L470.7,277.9 L475.0,277.7 L479.4,277.4 L483.7,276.3 L488.1,275.1 L492.4,274.7 L496.8,274.5 L501.1,273.9 L505.5,273.8 L509.8,274.0 L514.2,273.9 L518.6,273.8 L522.9,273.8 L527.3,279.6 L531.6,286.4 L536.0,289.4 L540.3,291.6 L544.7,293.0 L549.0,294.4 L553.4,295.6 L557.7,296.9 L562.1,297.8 L566.4,298.9 L570.8,300.2 L575.2,301.7 L579.5,302.9 L583.9,304.1 L588.2,304.4 L592.6,304.1 L596.9,303.8 L601.3,303.8 L605.6,303.8 L610.0,303.4 L614.3,303.2 L618.7,302.8 L623.1,302.0 L627.4,300.2 L631.8,297.8 L636.1,295.9 L640.5,293.9 L644.8,292.0 L649.2,289.6 L653.5,285.9 L657.9,281.8 L662.2,277.7 L666.6,273.0 L670.9,268.2 L675.3,262.3 L679.7,256.3 L684.0,249.7 L688.4,243.2 L692.7,236.7 L697.1,231.4 L701.4,226.7 L705.8,222.2 L710.1,217.6 L714.5,213.6 L718.8,210.0 L723.2,207.0 L727.6,204.3 L731.4,202.0" stroke="#5220f4"/>
<path d="M431.5,280.8 L435.8,280.5 L440.2,280.1 L444.5,279.7 L448.9,279.4 L453.2,279.4 L457.6,279.1 L461.9,278.6 L466.3,277.9 L470.7,277.4 L475.0,276.9 L479.4,276.5 L483.7,276.2 L488.1,275.6 L492.4,274.9 L496.8,274.7 L501.1,274.0 L505.5,274.1 L509.8,274.0 L514.2,273.8 L518.6,273.8 L522.9,273.8 L527.3,278.3 L531.6,283.8 L536.0,286.2 L540.3,287.0 L544.7,287.4 L549.0,288.4 L553.4,288.9 L557.7,289.1 L562.1,289.3 L566.4,289.7 L570.8,290.4 L575.2,291.6 L579.5,293.0 L583.9,294.2 L588.2,295.6 L592.6,296.0 L596.9,295.3 L601.3,294.9 L605.6,294.5 L610.0,294.0 L614.3,293.8 L618.7,293.1 L623.1,292.4 L627.4,291.7 L631.8,290.2 L636.1,287.8 L640.5,285.9 L644.8,284.6 L649.2,282.3 L653.5,279.3 L657.9,276.5 L662.2,274.0 L666.6,270.6 L670.9,266.6 L675.3,261.1 L679.7,254.9 L684.0,248.2 L688.4,241.5 L692.7,234.9 L697.1,229.9 L701.4,225.4 L705.8,220.7 L710.1,216.0 L714.5,212.1 L718.8,208.2 L723.2,204.3 L727.6,200.2 L731.4,197.3" stroke="#280afc"/>
<path d="M431.5,290.3 L435.8,289.5 L440.2,288.6 L444.5,287.7 L448.9,287.1 L453.2,286.8 L457.6,286.4 L461.9,285.2 L466.3,284.2 L470.7,283.3 L475.0,282.6 L479.4,281.4 L483.7,280.3 L488.1,278.8 L492.4,277.6 L496.8,276.9 L501.1,276.0 L505.5,275.3 L509.8,274.9 L514.2,274.5 L518.6,274.2 L522.9,273.9 L527.3,273.6 L531.6,273.5 L536.0,273.6 L540.3,273.5 L544.7,272.9 L549.0,272.8 L553.4,272.2 L557.7,271.8 L562.1,271.5 L566.4,270.5 L570.8,269.4 L575.2,268.5 L579.5,266.9 L583.9,264.7 L588.2,262.1 L592.6,258.3 L596.9,252.3 L601.3,245.1 L605.6,239.2 L610.0,235.0 L614.3,231.3 L618.7,227.0 L623.1,222.0 L627.4,216.9 L631.8,212.0 L636.1,207.5 L640.5,202.3 L644.8,196.7 L649.2,191.6 L653.5,186.2 L657.9,181.3 L662.2,176.4 L666.6,171.6 L670.9,166.9 L675.3,162.1 L679.7,157.3 L684.0,152.9 L688.4,148.5 L692.7,143.9 L697.1,138.7 L701.4,134.1 L705.8,129.4 L710.1,123.7 L714.5,118.5 L718.8,114.1 L723.2,109.9 L727.6,105.8 L731.4,102.8" stroke="#ffd800"/>
<path d="M431.5,284.2 L435.8,284.0 L440.2,283.2 L444.5,282.3 L448.9,281.4 L453.2,281.1 L457.6,280.8 L461.9,280.6 L466.3,280.0 L470.7,279.9 L475.0,279.4 L479.4,278.8 L483.7,277.5 L488.1,277.0 L492.4,276.0 L496.8,275.1 L501.1,274.1 L505.5,273.7 L509.8,273.7 L514.2,273.7 L518.6,273.7 L522.9,273.8 L527.3,283.4 L531.6,293.6 L536.0,299.5 L540.3,304.1 L544.7,308.5 L549.0,312.9 L553.4,317.1 L557.7,321.0 L562.1,325.7 L566.4,330.9 L570.8,335.7 L575.2,340.2 L579.5,343.3 L583.9,345.3 L588.2,347.5 L592.6,349.5 L596.9,350.3 L601.3,350.9 L605.6,351.4 L610.0,351.9 L614.3,352.2 L618.7,351.3 L623.1,349.6 L627.4,347.8 L631.8,346.3 L636.1,343.7 L640.5,340.8 L644.8,337.4 L649.2,333.5 L653.5,328.5 L657.9,322.6 L662.2,315.9 L666.6,308.7 L670.9,301.3 L675.3,292.9 L679.7,283.3 L684.0,272.3 L688.4,262.3 L692.7,253.5 L697.1,246.5 L701.4,240.6 L705.8,235.4 L710.1,229.9 L714.5,225.3 L718.8,220.9 L723.2,216.6 L727.6,212.8 L731.4,210.6" stroke="#8c4bdb"/>
<path d="M431.5,294.6 L435.8,293.5 L440.2,292.6 L444.5,292.0 L448.9,291.1 L453.2,290.1 L457.6,289.5 L461.9,288.7 L466.3,287.8 L470.7,286.6 L475.0,285.1 L479.4,283.6 L483.7,282.4 L488.1,281.2 L492.4,279.9 L496.8,278.3 L501.1,276.9 L505.5,276.1 L509.8,275.5 L514.2,275.0 L518.6,274.2 L522.9,273.8 L527.3,273.9 L531.6,273.9 L536.0,274.0 L540.3,274.0 L544.7,273.7 L549.0,273.6 L553.4,273.5 L557.7,273.1 L562.1,272.6 L566.4,272.3 L570.8,272.0 L575.2,271.4 L579.5,271.0 L583.9,269.9 L588.2,268.9 L592.6,267.8 L596.9,266.5 L601.3,265.4 L605.6,264.4 L610.0,262.7 L614.3,260.7 L618.7,258.3 L623.1,256.4 L627.4,254.2 L631.8,251.6 L636.1,249.1 L640.5,246.6 L644.8,243.8 L649.2,240.7 L653.5,237.2 L657.9,233.1 L662.2,228.7 L666.6,224.1 L670.9,219.4 L675.3,214.6 L679.7,208.7 L684.0,201.7 L688.4,194.6 L692.7,187.5 L697.1,180.7 L701.4,173.9 L705.8,166.9 L710.1,159.5 L714.5,152.4 L718.8,145.0 L723.2,137.0 L727.6,129.0 L731.4,122.3" stroke="#ffe300"/>
<path d="M431.5,294.5 L435.8,293.1 L440.2,291.9 L444.5,291.1 L448.9,290.4 L453.2,289.6 L457.6,288.3 L461.9,287.3 L466.3,286.7 L470.7,285.8 L475.0,284.7 L479.4,283.4 L483.7,282.5 L488.1,281.2 L492.4,279.4 L496.8,278.1 L501.1,277.6 L505.5,276.9 L509.8,275.9 L514.2,275.0 L518.6,274.3 L522.9,273.8 L527.3,274.1 L531.6,274.7 L536.0,275.5 L540.3,276.0 L544.7,275.7 L549.0,275.6 L553.4,275.6 L557.7,275.5 L562.1,275.1 L566.4,274.5 L570.8,273.9 L575.2,273.7 L579.5,272.8 L583.9,271.0 L588.2,270.5 L592.6,270.1 L596.9,269.1 L601.3,268.0 L605.6,267.0 L610.0,265.4 L614.3,264.1 L618.7,262.5 L623.1,260.8 L627.4,258.7 L631.8,256.3 L636.1,254.5 L640.5,252.5 L644.8,250.5 L649.2,248.3 L653.5,246.3 L657.9,244.5 L662.2,242.6 L666.6,239.0 L670.9,235.7 L675.3,231.9 L679.7,227.3 L684.0,222.0 L688.4,216.2 L692.7,211.1 L697.1,206.3 L701.4,201.0 L705.8,195.8 L710.1,190.9 L714.5,186.1 L718.8,181.0 L723.2,176.3 L727.6,171.6 L731.4,167.1" stroke="#91bf00"/>
<path d="M431.5,286.7 L435.8,286.4 L440.2,286.0 L444.5,285.4 L448.9,285.0 L453.2,284.2 L457.6,283.2 L461.9,282.0 L466.3,281.3 L470.7,281.3 L475.0,281.2 L479.4,280.4 L483.7,279.6 L488.1,278.9 L492.4,277.8 L496.8,277.1 L501.1,276.4 L505.5,275.2 L509.8,275.1 L514.2,274.7 L518.6,274.3 L522.9,273.9 L527.3,275.6 L531.6,277.5 L536.0,278.5 L540.3,279.4 L544.7,280.2 L549.0,280.9 L553.4,281.1 L557.7,281.6 L562.1,282.1 L566.4,283.1 L570.8,283.6 L575.2,284.0 L579.5,283.8 L583.9,284.6 L588.2,284.6 L592.6,284.5 L596.9,283.9 L601.3,283.2 L605.6,282.3 L610.0,281.4 L614.3,279.9 L618.7,279.1 L623.1,277.8 L627.4,276.6 L631.8,275.0 L636.1,273.2 L640.5,271.9 L644.8,270.6 L649.2,268.7 L653.5,266.8 L657.9,263.9 L662.2,260.9 L666.6,257.3 L670.9,253.2 L675.3,249.1 L679.7,244.8 L684.0,239.7 L688.4,234.1 L692.7,228.5 L697.1,224.0 L701.4,219.4 L705.8,214.4 L710.1,209.6 L714.5,205.1 L718.8,200.4 L723.2,195.5 L727.6,190.7 L731.4,186.7" stroke="#4933d3"/>
<path d="M431.5,278.8 L435.8,278.3 L440.2,277.9 L444.5,277.6 L448.9,277.7 L453.2,277.5 L457.6,276.9 L461.9,276.4 L466.3,276.5 L470.7,276.5 L475.0,276.6 L479.4,275.6 L483.7,274.8 L488.1,274.8 L492.4,274.3 L496.8,274.0 L501.1,273.6 L505.5,273.6 L509.8,273.5 L514.2,273.3 L518.6,273.4 L522.9,273.8 L527.3,276.2 L531.6,279.0 L536.0,280.3 L540.3,281.1 L544.7,281.6 L549.0,281.7 L553.4,281.6 L557.7,282.4 L562.1,283.4 L566.4,283.8 L570.8,283.8 L575.2,284.4 L579.5,285.1 L583.9,285.4 L588.2,285.6 L592.6,285.7 L596.9,285.6 L601.3,285.5 L605.6,284.6 L610.0,283.9 L614.3,283.3 L618.7,282.4 L623.1,281.5 L627.4,280.5 L631.8,279.1 L636.1,278.0 L640.5,276.0 L644.8,274.1 L649.2,272.2 L653.5,269.7 L657.9,266.1 L662.2,263.5 L666.6,260.2 L670.9,256.1 L675.3,251.8 L679.7,246.2 L684.0,239.1 L688.4,232.5 L692.7,226.6 L697.1,220.8 L701.4,215.2 L705.8,209.4 L710.1,204.9 L714.5,200.8 L718.8,196.4 L723.2,191.6 L727.6,186.5 L731.4,182.2" stroke="#503cc4"/>
<path d="M431.5,293.1 L435.8,292.6 L440.2,291.7 L444.5,290.8 L448.9,290.4 L453.2,289.8 L457.6,289.3 L461.9,288.1 L466.3,287.0 L470.7,285.8 L475.0,284.7 L479.4,283.4 L483.7,282.2 L488.1,280.6 L492.4,280.0 L496.8,278.9 L501.1,278.2 L505.5,277.0 L509.8,276.0 L514.2,275.2 L518.6,274.5 L522.9,273.9 L527.3,274.0 L531.6,274.3 L536.0,274.8 L540.3,275.0 L544.7,275.2 L549.0,275.6 L553.4,274.6 L557.7,273.9 L562.1,273.8 L566.4,273.6 L570.8,272.9 L575.2,272.2 L579.5,271.5 L583.9,271.0 L588.2,270.0 L592.6,269.6 L596.9,269.0 L601.3,268.2 L605.6,266.7 L610.0,265.4 L614.3,264.1 L618.7,262.8 L623.1,260.6 L627.4,259.0 L631.8,256.8 L636.1,254.2 L640.5,251.1 L644.8,248.6 L649.2,245.6 L653.5,242.8 L657.9,239.3 L662.2,235.4 L666.6,231.2 L670.9,227.0 L675.3,222.4 L679.7,217.4 L684.0,211.4 L688.4,205.2 L692.7,199.3 L697.1,192.9 L701.4,186.6 L705.8,180.5 L710.1,174.8 L714.5,169.1 L718.8,163.7 L723.2,158.5 L727.6,153.1 L731.4,148.0" stroke="#75af00"/>
<path d="M431.5,292.5 L435.8,291.7 L440.2,291.4 L444.5,291.4 L448.9,290.6 L453.2,289.7 L457.6,288.9 L461.9,287.5 L466.3,286.4 L470.7,285.6 L475.0,284.6 L479.4,283.3 L483.7,281.5 L488.1,280.6 L492.4,279.9 L496.8,278.7 L501.1,277.5 L505.5,276.6 L509.8,275.4 L514.2,274.7 L518.6,274.1 L522.9,273.8 L527.3,273.8 L531.6,273.6 L536.0,273.3 L540.3,273.3 L544.7,273.3 L549.0,272.4 L553.4,271.7 L557.7,271.2 L562.1,271.2 L566.4,271.0 L570.8,270.2 L575.2,269.3 L579.5,268.3 L583.9,266.9 L588.2,266.0 L592.6,264.5 L596.9,262.5 L601.3,260.2 L605.6,257.8 L610.0,256.2 L614.3,254.3 L618.7,251.3 L623.1,247.8 L627.4,244.2 L631.8,241.5 L636.1,238.8 L640.5,234.9 L644.8,231.0 L649.2,227.7 L653.5,224.6 L657.9,221.5 L662.2,217.7 L666.6,214.0 L670.9,209.9 L675.3,205.0 L679.7,199.6 L684.0,193.8 L688.4,187.6 L692.7,181.2 L697.1,175.4 L701.4,169.9 L705.8,164.3 L710.1,158.7 L714.5,152.9 L718.8,147.4 L723.2,142.1 L727.6,136.2 L731.4,130.9" stroke="#bad700"/>
<path d="M431.5,282.6 L435.8,282.3 L440.2,282.0 L444.5,281.4 L448.9,280.9 L453.2,280.8 L457.6,281.0 L461.9,280.4 L466.3,279.3 L470.7,278.5 L475.0,278.4 L479.4,277.7 L483.7,276.6 L488.1,276.0 L492.4,275.8 L496.8,275.1 L501.1,274.6 L505.5,274.5 L509.8,274.3 L514.2,274.2 L518.6,274.0 L522.9,273.9 L527.3,281.2 L531.6,289.6 L536.0,293.2 L540.3,296.1 L544.7,298.3 L549.0,300.5 L553.4,302.4 L557.7,304.5 L562.1,306.2 L566.4,307.6 L570.8,309.6 L575.2,311.0 L579.5,312.5 L583.9,313.9 L588.2,315.0 L592.6,316.3 L596.9,317.2 L601.3,317.6 L605.6,318.2 L610.0,318.6 L614.3,319.1 L618.7,319.1 L623.1,319.0 L627.4,318.3 L631.8,316.8 L636.1,314.2 L640.5,311.8 L644.8,309.6 L649.2,307.1 L653.5,303.1 L657.9,298.3 L662.2,292.5 L666.6,287.4 L670.9,282.0 L675.3,275.9 L679.7,268.6 L684.0,261.2 L688.4,253.7 L692.7,246.7 L697.1,240.6 L701.4,234.8 L705.8,229.3 L710.1,224.2 L714.5,218.9 L718.8,214.2 L723.2,209.6 L727.6,205.3 L731.4,201.9" stroke="#8746dd"/>
<path d="M431.5,284.0 L435.8,283.7 L440.2,283.7 L444.5,283.1 L448.9,282.4 L453.2,282.0 L457.6,281.5 L461.9,281.2 L466.3,280.6 L470.7,280.3 L475.0,279.7 L479.4,278.6 L483.7,278.3 L488.1,277.7 L492.4,276.5 L496.8,275.8 L501.1,275.2 L505.5,274.6 L509.8,274.6 L514.2,274.4 L518.6,274.0 L522.9,273.8 L527.3,275.4 L531.6,277.4 L536.0,278.5 L540.3,279.5 L544.7,279.7 L549.0,280.2 L553.4,280.4 L557.7,280.5 L562.1,280.8 L566.4,281.7 L570.8,281.9 L575.2,281.9 L579.5,282.2 L583.9,282.3 L588.2,282.2 L592.6,282.2 L596.9,282.1 L601.3,281.1 L605.6,280.7 L610.0,279.9 L614.3,278.6 L618.7,277.5 L623.1,275.8 L627.4,273.9 L631.8,272.4 L636.1,270.0 L640.5,267.7 L644.8,265.8 L649.2,263.7 L653.5,261.5 L657.9,258.7 L662.2,255.4 L666.6,252.4 L670.9,248.6 L675.3,244.0 L679.7,238.8 L684.0,233.2 L688.4,227.5 L692.7,222.0 L697.1,217.3 L701.4,212.5 L705.8,207.1 L710.1,201.5 L714.5,196.5 L718.8,191.0 L723.2,185.7 L727.6,180.0 L731.4,175.0" stroke="#496d53"/>
<path d="M431.5,288.9 L435.8,288.7 L440.2,288.1 L444.5,287.3 L448.9,286.4 L453.2,285.3 L457.6,285.1 L461.9,284.6 L466.3,284.0 L470.7,283.1 L475.0,281.9 L479.4,280.6 L483.7,279.3 L488.1,278.3 L492.4,277.8 L496.8,276.8 L501.1,276.4 L505.5,275.2 L509.8,274.6 L514.2,274.4 L518.6,274.1 L522.9,273.8 L527.3,274.0 L531.6,274.7 L536.0,275.8 L540.3,276.6 L544.7,277.1 L549.0,277.2 L553.4,276.7 L557.7,276.8 L562.1,277.4 L566.4,277.2 L570.8,276.8 L575.2,276.4 L579.5,276.4 L583.9,276.4 L588.2,276.3 L592.6,275.5 L596.9,275.4 L601.3,274.3 L605.6,272.6 L610.0,271.4 L614.3,269.9 L618.7,268.0 L623.1,267.1 L627.4,265.8 L631.8,264.6 L636.1,263.8 L640.5,262.9 L644.8,261.5 L649.2,259.8 L653.5,257.2 L657.9,254.1 L662.2,250.8 L666.6,248.1 L670.9,245.1 L675.3,241.6 L679.7,236.9 L684.0,231.4 L688.4,225.8 L692.7,220.4 L697.1,214.8 L701.4,209.0 L705.8,203.6 L710.1,198.5 L714.5,192.7 L718.8,187.4 L723.2,182.0 L727.6,176.3 L731.4,171.0" stroke="#367734"/>
<path d="M431.5,290.3 L435.8,289.7 L440.2,288.7 L444.5,287.9 L448.9,287.6 L453.2,286.5 L457.6,285.2 L461.9,284.5 L466.3,283.9 L470.7,282.6 L475.0,282.2 L479.4,281.4 L483.7,280.5 L488.1,279.7 L492.4,279.4 L496.8,278.5 L501.1,277.6 L505.5,276.2 L509.8,275.3 L514.2,274.5 L518.6,274.1 L522.9,273.8 L527.3,278.1 L531.6,283.1 L536.0,285.6 L540.3,287.3 L544.7,288.2 L549.0,288.9 L553.4,289.9 L557.7,290.6 L562.1,291.3 L566.4,292.0 L570.8,292.6 L575.2,293.3 L579.5,293.7 L583.9,293.9 L588.2,293.7 L592.6,293.9 L596.9,294.3 L601.3,294.3 L605.6,293.9 L610.0,293.7 L614.3,293.7 L618.7,293.8 L623.1,293.4 L627.4,292.3 L631.8,291.3 L636.1,290.0 L640.5,288.3 L644.8,287.0 L649.2,285.4 L653.5,283.1 L657.9,280.5 L662.2,277.0 L666.6,273.9 L670.9,270.9 L675.3,266.2 L679.7,260.1 L684.0,253.2 L688.4,246.0 L692.7,239.7 L697.1,234.9 L701.4,231.2 L705.8,227.3 L710.1,222.9 L714.5,219.4 L718.8,216.1 L723.2,213.0 L727.6,210.3 L731.4,207.9" stroke="#5b26f1"/>
<path d="M431.5,289.4 L435.8,288.4 L440.2,287.4 L444.5,286.9 L448.9,286.6 L453.2,285.4 L457.6,284.3 L461.9,283.4 L466.3,283.0 L470.7,282.2 L475.0,281.7 L479.4,280.6 L483.7,279.9 L488.1,279.0 L492.4,278.4 L496.8,277.4 L501.1,276.4 L505.5,275.7 L509.8,274.9 L514.2,274.6 L518.6,274.2 L522.9,273.9 L527.3,280.5 L531.6,288.1 L536.0,291.3 L540.3,293.8 L544.7,295.4 L549.0,296.9 L553.4,298.0 L557.7,299.2 L562.1,300.6 L566.4,301.7 L570.8,303.1 L575.2,304.9 L579.5,306.4 L583.9,307.1 L588.2,308.1 L592.6,308.4 L596.9,308.3 L601.3,308.4 L605.6,308.2 L610.0,307.5 L614.3,307.5 L618.7,306.8 L623.1,306.0 L627.4,305.5 L631.8,303.8 L636.1,302.0 L640.5,300.2 L644.8,298.1 L649.2,294.8 L653.5,291.5 L657.9,288.3 L662.2,284.5 L666.6,280.0 L670.9,275.6 L675.3,269.6 L679.7,263.5 L684.0,256.5 L688.4,249.2 L692.7,242.6 L697.1,237.7 L701.4,232.9 L705.8,229.8 L710.1,226.4 L714.5,222.5 L718.8,219.4 L723.2,216.5 L727.6,213.8 L731.4,212.2" stroke="#8746dd"/>
<path d="M431.5,280.3 L435.8,279.8 L440.2,278.9 L444.5,278.8 L448.9,278.9 L453.2,278.8 L457.6,278.5 L461.9,278.6 L466.3,278.9 L470.7,278.8 L475.0,277.8 L479.4,276.7 L483.7,276.5 L488.1,276.2 L492.4,275.6 L496.8,274.6 L501.1,274.1 L505.5,273.8 L509.8,273.6 L514.2,273.6 L518.6,273.8 L522.9,273.8 L527.3,280.5 L531.6,288.2 L536.0,291.5 L540.3,294.0 L544.7,296.2 L549.0,297.8 L553.4,299.9 L557.7,301.8 L562.1,303.9 L566.4,305.6 L570.8,307.0 L575.2,308.4 L579.5,309.8 L583.9,311.0 L588.2,312.7 L592.6,314.4 L596.9,314.9 L601.3,316.0 L605.6,317.2 L610.0,318.1 L614.3,318.2 L618.7,318.1 L623.1,317.6 L627.4,316.5 L631.8,314.2 L636.1,311.5 L640.5,309.0 L644.8,306.7 L649.2,303.8 L653.5,299.7 L657.9,294.9 L662.2,289.4 L666.6,283.7 L670.9,278.4 L675.3,272.0 L679.7,264.7 L684.0,257.4 L688.4,250.6 L692.7,244.0 L697.1,238.4 L701.4,233.8 L705.8,229.5 L710.1,224.8 L714.5,220.3 L718.8,216.8 L723.2,213.3 L727.6,209.5 L731.4,206.9" stroke="#5b26f1"/>
<path d="M431.5,286.7 L435.8,285.9 L440.2,285.4 L444.5,284.5 L448.9,283.8 L453.2,283.3 L457.6,282.7 L461.9,281.9 L466.3,281.6 L470.7,281.7 L475.0,281.9 L479.4,281.2 L483.7,281.1 L488.1,281.4 L492.4,281.2 L496.8,280.4 L501.1,279.7 L505.5,279.7 L509.8,279.2 L514.2,277.0 L518.6,272.3 L522.9,273.4 L527.3,278.5 L531.6,283.3 L536.0,285.5 L540.3,287.6 L544.7,289.8 L549.0,291.6 L553.4,293.2 L557.7,294.8 L562.1,296.6 L566.4,297.8 L570.8,298.6 L575.2,298.9 L579.5,299.8 L583.9,300.9 L588.2,301.1 L592.6,300.9 L596.9,301.0 L601.3,301.0 L605.6,301.0 L610.0,301.2 L614.3,300.8 L618.7,300.3 L623.1,299.2 L627.4,297.6 L631.8,295.7 L636.1,293.2 L640.5,290.9 L644.8,288.9 L649.2,285.6 L653.5,282.4 L657.9,279.2 L662.2,275.5 L666.6,271.3 L670.9,266.7 L675.3,261.3 L679.7,255.6 L684.0,249.2 L688.4,242.7 L692.7,236.2 L697.1,231.0 L701.4,226.4 L705.8,221.8 L710.1,218.3 L714.5,214.3 L718.8,210.6 L723.2,208.1 L727.6,205.6 L731.4,203.6" stroke="#7d3ee3"/>
<path d="M431.5,281.2 L435.8,281.4 L440.2,281.2 L444.5,280.3 L448.9,279.7 L453.2,279.4 L457.6,279.2 L461.9,279.0 L466.3,278.3 L470.7,277.4 L475.0,277.2 L479.4,276.8 L483.7,276.5 L488.1,276.0 L492.4,275.4 L496.8,274.6 L501.1,274.1 L505.5,274.2 L509.8,274.1 L514.2,273.9 L518.6,273.8 L522.9,273.8 L527.3,275.4 L531.6,277.2 L536.0,278.1 L540.3,278.8 L544.7,279.0 L549.0,279.2 L553.4,279.2 L557.7,279.6 L562.1,279.9 L566.4,280.0 L570.8,279.9 L575.2,279.8 L579.5,280.0 L583.9,280.4 L588.2,280.4 L592.6,280.1 L596.9,279.6 L601.3,278.5 L605.6,277.1 L610.0,275.9 L614.3,275.3 L618.7,274.5 L623.1,273.3 L627.4,272.4 L631.8,271.4 L636.1,270.2 L640.5,269.2 L644.8,267.7 L649.2,266.1 L653.5,263.9 L657.9,261.0 L662.2,258.2 L666.6,255.5 L670.9,251.9 L675.3,247.8 L679.7,243.5 L684.0,238.8 L688.4,234.0 L692.7,229.3 L697.1,225.1 L701.4,220.6 L705.8,216.4 L710.1,212.1 L714.5,208.0 L718.8,203.9 L723.2,199.7 L727.6,195.6 L731.4,192.1" stroke="#503cc4"/>
<path d="M431.5,282.6 L435.8,282.6 L440.2,282.3 L444.5,281.5 L448.9,281.3 L453.2,280.9 L457.6,280.4 L461.9,279.9 L466.3,279.1 L470.7,278.0 L475.0,277.5 L479.4,277.3 L483.7,277.2 L488.1,276.5 L492.4,276.0 L496.8,274.9 L501.1,274.6 L505.5,274.1 L509.8,273.9 L514.2,273.9 L518.6,273.9 L522.9,273.8 L527.3,279.5 L531.6,286.1 L536.0,289.1 L540.3,290.5 L544.7,291.1 L549.0,292.6 L553.4,294.3 L557.7,294.5 L562.1,295.6 L566.4,296.9 L570.8,298.0 L575.2,299.1 L579.5,299.6 L583.9,300.1 L588.2,300.8 L592.6,300.4 L596.9,299.8 L601.3,300.0 L605.6,300.3 L610.0,300.7 L614.3,300.7 L618.7,299.9 L623.1,299.2 L627.4,298.2 L631.8,296.1 L636.1,293.8 L640.5,291.4 L644.8,289.3 L649.2,287.5 L653.5,285.1 L657.9,282.1 L662.2,278.9 L666.6,275.6 L670.9,272.0 L675.3,267.5 L679.7,261.4 L684.0,254.2 L688.4,247.1 L692.7,241.3 L697.1,236.4 L701.4,231.3 L705.8,226.7 L710.1,222.9 L714.5,219.5 L718.8,215.9 L723.2,212.2 L727.6,208.9 L731.4,206.5" stroke="#471af7"/>
<path d="M431.5,279.2 L435.8,279.4 L440.2,279.4 L444.5,278.8 L448.9,278.3 L453.2,278.2 L457.6,278.5 L461.9,278.2 L466.3,277.4 L470.7,276.5 L475.0,275.9 L479.4,275.9 L483.7,276.2 L488.1,275.4 L492.4,274.3 L496.8,273.8 L501.1,273.5 L505.5,273.4 L509.8,273.3 L514.2,273.4 L518.6,273.6 L522.9,273.8 L527.3,283.3 L531.6,293.5 L536.0,305.6 L540.3,321.9 L544.7,336.7 L549.0,348.2 L553.4,358.5 L557.7,370.3 L562.1,383.7 L566.4,396.5 L570.8,408.4 L575.2,421.7 L579.5,430.2 L583.9,437.5 L588.2,443.0 L592.6,447.0 L596.9,450.3 L601.3,453.2 L605.6,454.6 L610.0,455.8 L614.3,455.4 L618.7,453.5 L623.1,447.1 L627.4,438.3 L631.8,427.7 L636.1,417.9 L640.5,405.4 L644.8,390.3 L649.2,373.1 L653.5,361.4 L657.9,351.2 L662.2,341.2 L666.6,329.6 L670.9,314.5 L675.3,289.7 L679.7,270.6 L684.0,261.2 L688.4,252.0 L692.7,242.3 L697.1,235.1 L701.4,229.3 L705.8,223.5 L710.1,218.2 L714.5,214.0 L718.8,210.3 L723.2,207.4 L727.6,205.8 L731.4,205.2" stroke="#9755d3"/>
<path d="M431.5,289.0 L435.8,288.3 L440.2,287.5 L444.5,287.0 L448.9,286.2 L453.2,285.8 L457.6,285.1 L461.9,284.4 L466.3,284.5 L470.7,284.1 L475.0,282.7 L479.4,281.9 L483.7,281.0 L488.1,280.4 L492.4,279.4 L496.8,278.1 L501.1,276.9 L505.5,275.8 L509.8,274.6 L514.2,274.4 L518.6,274.1 L522.9,273.9 L527.3,274.1 L531.6,274.8 L536.0,275.6 L540.3,276.2 L544.7,275.9 L549.0,276.0 L553.4,276.0 L557.7,275.5 L562.1,275.9 L566.4,275.7 L570.8,275.1 L575.2,274.8 L579.5,274.9 L583.9,275.4 L588.2,275.6 L592.6,275.0 L596.9,274.8 L601.3,274.0 L605.6,272.2 L610.0,269.8 L614.3,267.3 L618.7,265.7 L623.1,264.6 L627.4,263.6 L631.8,261.8 L636.1,259.9 L640.5,258.5 L644.8,256.3 L649.2,253.9 L653.5,252.0 L657.9,250.6 L662.2,248.8 L666.6,246.0 L670.9,242.6 L675.3,238.6 L679.7,233.6 L684.0,228.0 L688.4,222.2 L692.7,216.6 L697.1,211.6 L701.4,206.9 L705.8,201.7 L710.1,196.8 L714.5,192.9 L718.8,188.9 L723.2,184.4 L727.6,179.6 L731.4,176.0" stroke="#499700"/>
<path d="M431.5,297.7 L435.8,296.1 L440.2,294.8 L444.5,293.7 L448.9,293.5 L453.2,292.7 L457.6,291.7 L461.9,290.3 L466.3,289.6 L470.7,288.5 L475.0,287.1 L479.4,285.2 L483.7,283.9 L488.1,282.6 L492.4,281.3 L496.8,280.3 L501.1,278.6 L505.5,277.5 L509.8,276.7 L514.2,275.6 L518.6,274.5 L522.9,273.9 L527.3,274.1 L531.6,274.8 L536.0,275.4 L540.3,275.6 L544.7,275.5 L549.0,275.8 L553.4,276.1 L557.7,276.9 L562.1,277.3 L566.4,277.1 L570.8,276.8 L575.2,276.9 L579.5,276.6 L583.9,276.1 L588.2,275.6 L592.6,275.1 L596.9,274.6 L601.3,274.0 L605.6,272.7 L610.0,271.8 L614.3,271.2 L618.7,269.5 L623.1,267.9 L627.4,266.4 L631.8,264.5 L636.1,262.6 L640.5,260.3 L644.8,258.3 L649.2,256.0 L653.5,253.6 L657.9,251.0 L662.2,248.0 L666.6,244.3 L670.9,240.5 L675.3,236.0 L679.7,231.4 L684.0,226.3 L688.4,221.2 L692.7,216.0 L697.1,210.5 L701.4,205.9 L705.8,201.2 L710.1,195.9 L714.5,190.8 L718.8,186.3 L723.2,181.8 L727.6,177.4 L731.4,173.3" stroke="#389000"/>
<path d="M431.5,286.3 L435.8,285.9 L440.2,285.5 L444.5,284.9 L448.9,284.3 L453.2,283.9 L457.6,283.6 L461.9,283.3 L466.3,282.7 L470.7,282.1 L475.0,281.1 L479.4,279.9 L483.7,279.2 L488.1,278.7 L492.4,278.0 L496.8,276.0 L501.1,274.8 L505.5,275.0 L509.8,274.9 L514.2,274.3 L518.6,274.0 L522.9,273.8 L527.3,274.1 L531.6,274.9 L536.0,275.8 L540.3,276.3 L544.7,276.4 L549.0,276.7 L553.4,277.0 L557.7,276.8 L562.1,276.6 L566.4,276.1 L570.8,276.0 L575.2,276.5 L579.5,277.0 L583.9,276.6 L588.2,276.2 L592.6,276.1 L596.9,276.1 L601.3,275.8 L605.6,275.2 L610.0,273.6 L614.3,272.4 L618.7,271.7 L623.1,270.4 L627.4,268.9 L631.8,267.6 L636.1,266.1 L640.5,264.2 L644.8,262.5 L649.2,260.1 L653.5,257.1 L657.9,254.4 L662.2,251.5 L666.6,248.3 L670.9,244.8 L675.3,240.7 L679.7,235.7 L684.0,230.7 L688.4,225.3 L692.7,220.6 L697.1,215.7 L701.4,210.5 L705.8,205.9 L710.1,202.0 L714.5,197.7 L718.8,193.4 L723.2,188.7 L727.6,184.1 L731.4,180.3" stroke="#008000"/>
<path d="M431.5,277.6 L435.8,277.1 L440.2,277.0 L444.5,277.1 L448.9,277.3 L453.2,276.8 L457.6,276.5 L461.9,276.1 L466.3,276.6 L470.7,276.3 L475.0,276.0 L479.4,276.1 L483.7,275.8 L488.1,275.6 L492.4,275.5 L496.8,274.6 L501.1,273.9 L505.5,274.2 L509.8,273.8 L514.2,273.8 L518.6,273.8 L522.9,273.8 L527.3,277.2 L531.6,281.1 L536.0,282.8 L540.3,283.6 L544.7,284.2 L549.0,284.5 L553.4,284.5 L557.7,285.3 L562.1,286.1 L566.4,286.9 L570.8,287.2 L575.2,287.9 L579.5,288.6 L583.9,289.6 L588.2,290.3 L592.6,290.5 L596.9,290.3 L601.3,290.2 L605.6,289.8 L610.0,289.5 L614.3,288.9 L618.7,288.6 L623.1,287.2 L627.4,286.0 L631.8,285.0 L636.1,283.2 L640.5,280.7 L644.8,279.2 L649.2,277.3 L653.5,274.4 L657.9,271.2 L662.2,268.1 L666.6,264.6 L670.9,261.0 L675.3,256.8 L679.7,251.0 L684.0,244.7 L688.4,237.9 L692.7,231.1 L697.1,225.2 L701.4,219.9 L705.8,215.1 L710.1,210.6 L714.5,206.3 L718.8,201.5 L723.2,196.7 L727.6,193.1 L731.4,190.1" stroke="#2d1af0"/>
<path d="M431.5,295.9 L435.8,295.2 L440.2,294.5 L444.5,293.8 L448.9,292.9 L453.2,291.9 L457.6,291.3 L461.9,290.1 L466.3,289.0 L470.7,287.9 L475.0,286.5 L479.4,284.9 L483.7,283.5 L488.1,281.9 L492.4,280.4 L496.8,278.5 L501.1,277.0 L505.5,276.3 L509.8,275.5 L514.2,274.9 L518.6,274.3 L522.9,273.9 L527.3,274.0 L531.6,274.7 L536.0,275.3 L540.3,275.5 L544.7,275.3 L549.0,275.1 L553.4,274.4 L557.7,274.3 L562.1,273.4 L566.4,272.7 L570.8,272.6 L575.2,272.0 L579.5,271.1 L583.9,270.1 L588.2,269.7 L592.6,269.9 L596.9,269.1 L601.3,266.7 L605.6,264.8 L610.0,263.2 L614.3,261.9 L618.7,260.4 L623.1,258.4 L627.4,257.1 L631.8,256.0 L636.1,255.1 L640.5,254.3 L644.8,252.2 L649.2,249.5 L653.5,247.5 L657.9,244.8 L662.2,241.8 L666.6,239.0 L670.9,235.5 L675.3,231.0 L679.7,226.5 L684.0,221.4 L688.4,216.2 L692.7,210.8 L697.1,206.3 L701.4,202.4 L705.8,197.7 L710.1,192.8 L714.5,188.7 L718.8,184.4 L723.2,180.2 L727.6,175.7 L731.4,171.3" stroke="#9fc700"/>
<path d="M431.5,277.3 L435.8,277.4 L440.2,278.3 L444.5,278.2 L448.9,277.9 L453.2,277.7 L457.6,276.9 L461.9,276.8 L466.3,276.6 L470.7,275.8 L475.0,275.1 L479.4,275.2 L483.7,275.0 L488.1,274.5 L492.4,274.1 L496.8,273.8 L501.1,273.3 L505.5,273.2 L509.8,273.0 L514.2,273.1 L518.6,273.4 L522.9,273.7 L527.3,279.9 L531.6,287.1 L536.0,290.6 L540.3,292.7 L544.7,293.9 L549.0,294.7 L553.4,295.3 L557.7,296.3 L562.1,297.4 L566.4,297.5 L570.8,298.5 L575.2,300.1 L579.5,301.5 L583.9,303.2 L588.2,304.0 L592.6,304.4 L596.9,304.5 L601.3,304.1 L605.6,303.1 L610.0,302.2 L614.3,301.5 L618.7,300.9 L623.1,299.6 L627.4,297.9 L631.8,296.2 L636.1,294.0 L640.5,291.6 L644.8,289.1 L649.2,286.9 L653.5,283.9 L657.9,280.8 L662.2,277.0 L666.6,272.7 L670.9,267.8 L675.3,262.1 L679.7,255.0 L684.0,248.2 L688.4,240.7 L692.7,233.2 L697.1,227.8 L701.4,223.2 L705.8,217.7 L710.1,212.3 L714.5,207.6 L718.8,203.0 L723.2,199.2 L727.6,196.1 L731.4,193.2" stroke="#0000ff"/>
<path d="M431.5,280.6 L435.8,280.5 L440.2,280.2 L444.5,280.4 L448.9,280.1 L453.2,278.9 L457.6,278.8 L461.9,278.9 L466.3,278.6 L470.7,278.5 L475.0,277.6 L479.4,276.7 L483.7,276.0 L488.1,275.5 L492.4,275.0 L496.8,274.6 L501.1,274.2 L505.5,274.4 L509.8,274.1 L514.2,273.8 L518.6,273.8 L522.9,273.8 L527.3,276.6 L531.6,279.8 L536.0,281.3 L540.3,282.3 L544.7,283.1 L549.0,284.2 L553.4,284.9 L557.7,285.1 L562.1,285.4 L566.4,285.5 L570.8,285.5 L575.2,286.0 L579.5,286.0 L583.9,285.7 L588.2,286.0 L592.6,286.1 L596.9,286.1 L601.3,286.5 L605.6,286.8 L610.0,287.3 L614.3,287.4 L618.7,287.3 L623.1,286.9 L627.4,287.0 L631.8,286.0 L636.1,285.2 L640.5,284.5 L644.8,283.8 L649.2,282.2 L653.5,280.3 L657.9,278.0 L662.2,275.3 L666.6,271.9 L670.9,268.2 L675.3,263.3 L679.7,257.6 L684.0,251.4 L688.4,245.0 L692.7,239.2 L697.1,234.3 L701.4,230.2 L705.8,226.5 L710.1,223.0 L714.5,219.8 L718.8,217.2 L723.2,213.9 L727.6,211.5 L731.4,209.8" stroke="#3a13f9"/>
<path d="M431.5,280.6 L435.8,280.2 L440.2,280.1 L444.5,280.2 L448.9,279.9 L453.2,279.8 L457.6,279.3 L461.9,278.5 L466.3,278.4 L470.7,278.6 L475.0,278.0 L479.4,277.3 L483.7,276.5 L488.1,276.0 L492.4,275.9 L496.8,275.4 L501.1,274.5 L505.5,274.1 L509.8,273.9 L514.2,273.8 L518.6,273.9 L522.9,273.8 L527.3,275.5 L531.6,277.5 L536.0,278.3 L540.3,279.1 L544.7,280.1 L549.0,280.7 L553.4,280.4 L557.7,280.3 L562.1,280.9 L566.4,282.1 L570.8,282.1 L575.2,281.6 L579.5,281.5 L583.9,281.8 L588.2,282.3 L592.6,282.0 L596.9,281.2 L601.3,280.5 L605.6,280.0 L610.0,279.1 L614.3,278.1 L618.7,276.9 L623.1,275.8 L627.4,274.6 L631.8,273.1 L636.1,271.6 L640.5,270.2 L644.8,268.0 L649.2,266.0 L653.5,264.2 L657.9,261.4 L662.2,258.5 L666.6,255.3 L670.9,251.7 L675.3,246.8 L679.7,241.1 L684.0,235.9 L688.4,229.8 L692.7,223.7 L697.1,218.1 L701.4,212.5 L705.8,207.3 L710.1,202.8 L714.5,197.9 L718.8,192.9 L723.2,187.9 L727.6,183.2 L731.4,178.8" stroke="#5543b6"/>
<path d="M431.5,278.9 L435.8,279.1 L440.2,279.3 L444.5,279.3 L448.9,278.6 L453.2,278.5 L457.6,278.6 L461.9,278.3 L466.3,277.6 L470.7,276.7 L475.0,275.8 L479.4,275.7 L483.7,275.1 L488.1,275.0 L492.4,275.1 L496.8,274.3 L501.1,273.5 L505.5,273.3 L509.8,273.2 L514.2,273.4 L518.6,273.5 L522.9,273.7 L527.3,278.9 L531.6,284.8 L536.0,287.6 L540.3,289.3 L544.7,290.4 L549.0,291.6 L553.4,292.6 L557.7,293.2 L562.1,293.9 L566.4,294.7 L570.8,295.2 L575.2,295.6 L579.5,296.6 L583.9,297.1 L588.2,297.8 L592.6,297.8 L596.9,297.9 L601.3,297.7 L605.6,297.3 L610.0,296.7 L614.3,296.5 L618.7,295.6 L623.1,295.1 L627.4,293.9 L631.8,291.5 L636.1,288.5 L640.5,285.8 L644.8,283.2 L649.2,280.1 L653.5,276.3 L657.9,272.7 L662.2,268.8 L666.6,264.8 L670.9,260.5 L675.3,255.6 L679.7,249.8 L684.0,243.8 L688.4,237.2 L692.7,231.1 L697.1,225.2 L701.4,219.3 L705.8,213.7 L710.1,208.9 L714.5,203.5 L718.8,198.3 L723.2,193.5 L727.6,188.8 L731.4,184.8" stroke="#3e28e1"/>
<path d="M431.5,279.4 L435.8,279.4 L440.2,279.8 L444.5,279.8 L448.9,279.6 L453.2,279.2 L457.6,278.8 L461.9,278.9 L466.3,278.4 L470.7,277.9 L475.0,277.7 L479.4,277.1 L483.7,276.3 L488.1,275.7 L492.4,274.6 L496.8,274.1 L501.1,273.5 L505.5,273.2 L509.8,273.2 L514.2,273.4 L518.6,273.8 L522.9,273.8 L527.3,281.7 L531.6,290.9 L536.0,294.9 L540.3,298.1 L544.7,301.5 L549.0,304.3 L553.4,306.0 L557.7,308.2 L562.1,309.8 L566.4,312.3 L570.8,315.1 L575.2,317.8 L579.5,320.2 L583.9,322.6 L588.2,323.8 L592.6,325.3 L596.9,326.2 L601.3,326.7 L605.6,327.3 L610.0,328.0 L614.3,328.3 L618.7,328.7 L623.1,328.4 L627.4,327.1 L631.8,325.4 L636.1,323.4 L640.5,321.3 L644.8,319.2 L649.2,315.8 L653.5,311.7 L657.9,306.7 L662.2,301.0 L666.6,294.7 L670.9,288.6 L675.3,281.6 L679.7,273.1 L684.0,264.4 L688.4,256.3 L692.7,248.4 L697.1,242.1 L701.4,236.4 L705.8,230.7 L710.1,225.7 L714.5,220.9 L718.8,216.3 L723.2,211.7 L727.6,207.9 L731.4,205.1" stroke="#6a30eb"/>
<path d="M431.5,281.1 L435.8,281.0 L440.2,280.9 L444.5,280.3 L448.9,279.9 L453.2,279.6 L457.6,279.1 L461.9,278.4 L466.3,278.0 L470.7,277.7 L475.0,276.8 L479.4,276.3 L483.7,276.3 L488.1,276.1 L492.4,275.5 L496.8,274.8 L501.1,274.3 L505.5,273.8 L509.8,273.7 L514.2,273.8 L518.6,273.9 L522.9,273.9 L527.3,282.5 L531.6,291.6 L536.0,297.0 L540.3,301.6 L544.7,305.8 L549.0,309.5 L553.4,312.3 L557.7,316.0 L562.1,319.7 L566.4,323.1 L570.8,326.1 L575.2,329.6 L579.5,332.8 L583.9,335.9 L588.2,337.7 L592.6,338.8 L596.9,339.5 L601.3,341.2 L605.6,342.0 L610.0,342.2 L614.3,342.2 L618.7,341.5 L623.1,340.7 L627.4,340.4 L631.8,339.0 L636.1,336.7 L640.5,334.0 L644.8,330.0 L649.2,326.2 L653.5,321.5 L657.9,315.8 L662.2,308.8 L666.6,302.3 L670.9,295.6 L675.3,287.7 L679.7,278.2 L684.0,268.7 L688.4,258.9 L692.7,250.7 L697.1,243.5 L701.4,237.5 L705.8,231.8 L710.1,226.6 L714.5,221.9 L718.8,217.7 L723.2,213.3 L727.6,210.1 L731.4,207.5" stroke="#7739e6"/>
<path d="M431.5,284.6 L435.8,283.7 L440.2,283.1 L444.5,282.4 L448.9,281.9 L453.2,281.4 L457.6,280.6 L461.9,280.1 L466.3,280.6 L470.7,279.6 L475.0,279.0 L479.4,278.6 L483.7,278.2 L488.1,277.3 L492.4,277.0 L496.8,276.3 L501.1,275.8 L505.5,274.7 L509.8,274.3 L514.2,273.8 L518.6,273.7 L522.9,273.8 L527.3,279.0 L531.6,285.2 L536.0,288.3 L540.3,290.1 L544.7,291.2 L549.0,292.3 L553.4,293.4 L557.7,293.9 L562.1,294.1 L566.4,294.9 L570.8,295.8 L575.2,297.7 L579.5,299.1 L583.9,299.1 L588.2,298.9 L592.6,299.0 L596.9,298.8 L601.3,298.5 L605.6,297.1 L610.0,295.9 L614.3,295.5 L618.7,295.3 L623.1,294.3 L627.4,292.8 L631.8,291.2 L636.1,289.1 L640.5,287.1 L644.8,285.4 L649.2,282.7 L653.5,279.5 L657.9,276.2 L662.2,271.6 L666.6,266.8 L670.9,262.2 L675.3,256.4 L679.7,250.4 L684.0,244.7 L688.4,238.5 L692.7,232.7 L697.1,227.6 L701.4,223.0 L705.8,218.4 L710.1,213.4 L714.5,209.4 L718.8,205.4 L723.2,200.8 L727.6,196.3 L731.4,193.0" stroke="#7135e9"/>
</g>
<path d="M85.7,464.5 V35.6 H746.1 V464.5" fill="none" stroke="#4d4d4d" stroke-width="1.5"/>
<line x1="85" x2="746.8" y1="464.4" y2="464.4" stroke="#111" stroke-width="1.3"/>
<line x1="416" x2="416" y1="35.5" y2="464.5" stroke="#111" stroke-width="2"/>
<g stroke="#0a0a0a" stroke-width="1.25"><line x1="130.8" x2="130.8" y1="456" y2="464.5"/><line x1="183.0" x2="183.0" y1="456" y2="464.5"/><line x1="235.2" x2="235.2" y1="456" y2="464.5"/><line x1="287.5" x2="287.5" y1="456" y2="464.5"/><line x1="339.8" x2="339.8" y1="456" y2="464.5"/><line x1="392.0" x2="392.0" y1="456" y2="464.5"/><line x1="461.2" x2="461.2" y1="456" y2="464.5"/><line x1="513.5" x2="513.5" y1="456" y2="464.5"/><line x1="565.8" x2="565.8" y1="456" y2="464.5"/><line x1="618.0" x2="618.0" y1="456" y2="464.5"/><line x1="670.2" x2="670.2" y1="456" y2="464.5"/><line x1="722.5" x2="722.5" y1="456" y2="464.5"/></g>
<text class="k" x="750.6" y="469.9">80</text><text class="k" x="750.6" y="422.3">85</text><text class="k" x="82.2" y="422.3" text-anchor="end">85</text><text class="k" x="750.6" y="374.6">90</text><text class="k" x="82.2" y="374.6" text-anchor="end">90</text><text class="k" x="750.6" y="326.9">95</text><text class="k" x="82.2" y="326.9" text-anchor="end">95</text><text class="k" x="750.6" y="279.3">100</text><text class="k" x="82.2" y="279.3" text-anchor="end">100</text><text class="k" x="750.6" y="231.6">105</text><text class="k" x="82.2" y="231.6" text-anchor="end">105</text><text class="k" x="750.6" y="183.9">110</text><text class="k" x="82.2" y="183.9" text-anchor="end">110</text><text class="k" x="750.6" y="136.3">115</text><text class="k" x="82.2" y="136.3" text-anchor="end">115</text>
<text class="k" x="203.4" y="479.4" text-anchor="middle">2020</text><text class="k" x="360.4" y="479.4" text-anchor="middle">2023</text><text class="k" x="533.9" y="479.4" text-anchor="middle">2020</text><text class="k" x="690.9" y="479.4" text-anchor="middle">2023</text>
<text class="t" x="250.9" y="26" text-anchor="middle">Greater Sydney</text><text class="t" x="581.2" y="26" text-anchor="middle">Greater Melbourne</text>
<text class="u" x="8.7" y="48">index</text><text class="u" x="778.7" y="48">index</text>
<rect x="119.5" y="509.5" width="593" height="16.2" fill="url(#cb)"/>
<g stroke="#fff" stroke-opacity="0.7" stroke-width="1"><line x1="267.75" x2="267.75" y1="509.5" y2="512.8"/><line x1="267.75" x2="267.75" y1="522.4" y2="525.7"/><line x1="416.00" x2="416.00" y1="509.5" y2="512.8"/><line x1="416.00" x2="416.00" y1="522.4" y2="525.7"/><line x1="564.25" x2="564.25" y1="509.5" y2="512.8"/><line x1="564.25" x2="564.25" y1="522.4" y2="525.7"/></g>
<text class="c" x="119.5" y="545.5" text-anchor="middle">0</text><text class="c" x="267.8" y="545.5" text-anchor="middle">20</text><text class="c" x="416.0" y="545.5" text-anchor="middle">40</text><text class="c" x="564.2" y="545.5" text-anchor="middle">60</text><text class="c" x="712.5" y="545.5" text-anchor="middle">80</text>
<text class="u" x="416" y="589" text-anchor="middle" style="font-size:18.25px">Distance to CBD (km)</text>
<text class="f" x="85.2" y="618.8">* Total private dwellings, excluding rent assistance. Stratified by SA3 and property type.</text>
<text class="f" x="89.3" y="634.4">Source: ABS</text>
</svg></body></html>
